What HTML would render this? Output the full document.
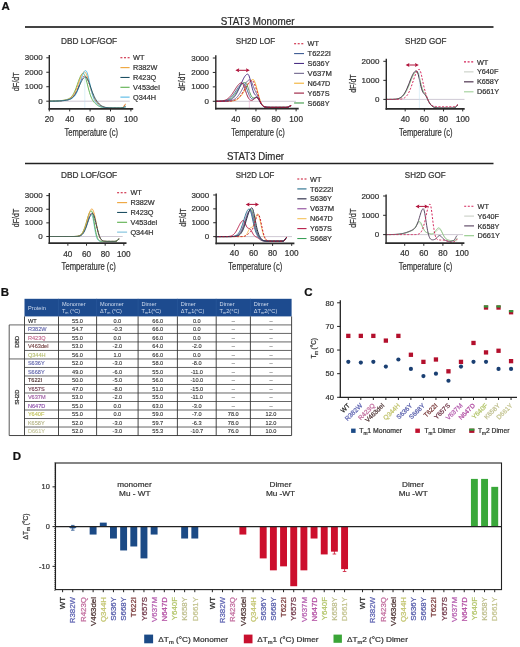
<!DOCTYPE html>
<html><head><meta charset="utf-8"><style>
html,body{margin:0;padding:0;background:#fff;width:520px;height:647px;overflow:hidden}
svg{display:block;font-family:"Liberation Sans", sans-serif;will-change:transform}
text{stroke:currentColor;stroke-width:0.22px;paint-order:stroke}
</style></head><body>
<svg width="520" height="647" viewBox="0 0 520 647">
<rect width="520" height="647" fill="#fff"/>
<text x="1.60" y="9.70" font-size="11.5" font-weight="bold" fill="#111" color="#111">A</text>
<text x="0.80" y="295.60" font-size="11.5" font-weight="bold" fill="#111" color="#111">B</text>
<text x="304.20" y="295.70" font-size="11.5" font-weight="bold" fill="#111" color="#111">C</text>
<text x="12.80" y="459.70" font-size="11.5" font-weight="bold" fill="#111" color="#111">D</text>
<text x="220.80" y="24.60" font-size="10.2" fill="#2a2a2a" color="#2a2a2a" textLength="73.7" lengthAdjust="spacingAndGlyphs">STAT3 Monomer</text>
<line x1="25.00" y1="27.00" x2="493.50" y2="27.00" stroke="#444" stroke-width="1.8"/>
<text x="226.90" y="159.50" font-size="10.2" fill="#2a2a2a" color="#2a2a2a" textLength="57.1" lengthAdjust="spacingAndGlyphs">STAT3 Dimer</text>
<line x1="25.00" y1="163.50" x2="493.50" y2="163.50" stroke="#222" stroke-width="1.4"/>
<line x1="49.30" y1="101.20" x2="129.80" y2="101.20" stroke="#c9c3cf" stroke-width="0.9"/>
<path d="M49.30,101.18 L49.81,101.17 L50.32,101.17 L50.83,101.16 L51.34,101.16 L51.85,101.15 L52.36,101.14 L52.87,101.14 L53.38,101.13 L53.89,101.12 L54.40,101.11 L54.91,101.10 L55.42,101.08 L55.93,101.07 L56.44,101.05 L56.95,101.03 L57.46,101.01 L57.97,100.99 L58.48,100.97 L58.99,100.94 L59.50,100.91 L60.01,100.88 L60.52,100.85 L61.03,100.81 L61.54,100.77 L62.05,100.72 L62.56,100.68 L63.07,100.62 L63.58,100.57 L64.09,100.50 L64.60,100.44 L65.11,100.36 L65.62,100.28 L66.13,100.18 L66.64,100.08 L67.15,99.97 L67.66,99.83 L68.17,99.69 L68.68,99.52 L69.19,99.33 L69.70,99.11 L70.21,98.85 L70.72,98.56 L71.23,98.23 L71.74,97.86 L72.25,97.43 L72.76,96.94 L73.27,96.39 L73.78,95.77 L74.29,95.08 L74.80,94.32 L75.31,93.48 L75.82,92.57 L76.33,91.58 L76.84,90.53 L77.35,89.41 L77.86,88.25 L78.37,87.04 L78.88,85.81 L79.39,84.57 L79.90,83.33 L80.41,82.13 L80.92,80.98 L81.43,79.90 L81.94,78.91 L82.45,78.03 L82.96,77.29 L83.47,76.70 L83.98,76.26 L84.49,76.00 L85.00,75.92 L85.51,76.06 L86.02,76.47 L86.53,77.12 L87.04,78.00 L87.55,79.09 L88.06,80.35 L88.57,81.75 L89.08,83.26 L89.59,84.84 L90.10,86.45 L90.61,88.07 L91.12,89.67 L91.63,91.21 L92.14,92.69 L92.65,94.08 L93.16,95.39 L93.67,96.60 L94.18,97.71 L94.69,98.74 L95.20,99.68 L95.71,100.53 L96.22,101.32 L96.73,102.03 L97.24,102.69 L97.75,103.30 L98.26,103.85 L98.77,104.36 L99.28,104.82 L99.79,105.24 L100.30,105.61 L100.81,105.95 L101.32,106.25 L101.83,106.51 L102.34,106.74 L102.85,106.93 L103.36,107.10 L103.87,107.25 L104.38,107.37 L104.89,107.48 L105.40,107.56 L105.91,107.64 L106.42,107.70 L106.93,107.75 L107.44,107.79 L107.95,107.83 L108.46,107.86 L108.97,107.88 L109.48,107.90 L109.99,107.92 L110.50,107.93 L111.01,107.95 L111.52,107.96 L112.03,107.96 L112.54,107.97 L113.05,107.98 L113.56,107.98 L114.07,107.98 L114.58,107.99 L115.09,107.99 L115.60,107.99 L116.11,107.99 L116.62,107.99 L117.13,108.00 L117.64,108.00 L118.15,108.00 L118.66,108.00 L119.17,108.00 L119.68,108.00 L120.19,107.99 L120.70,107.99 L121.21,107.96 L121.72,107.90 L122.23,107.76 L122.74,107.51 L123.25,107.10 L123.76,106.51 L124.27,105.81 L124.78,105.10 L125.29,104.58 L125.80,104.38" fill="none" stroke="#c8102e" stroke-width="1.0" stroke-dasharray="2,1.6" stroke-linejoin="round"/>
<path d="M49.30,101.16 L49.81,101.15 L50.32,101.14 L50.83,101.13 L51.34,101.12 L51.85,101.11 L52.36,101.10 L52.87,101.09 L53.38,101.08 L53.89,101.06 L54.40,101.04 L54.91,101.02 L55.42,101.00 L55.93,100.98 L56.44,100.95 L56.95,100.93 L57.46,100.90 L57.97,100.86 L58.48,100.83 L58.99,100.79 L59.50,100.75 L60.01,100.70 L60.52,100.65 L61.03,100.60 L61.54,100.54 L62.05,100.48 L62.56,100.41 L63.07,100.34 L63.58,100.26 L64.09,100.18 L64.60,100.08 L65.11,99.98 L65.62,99.87 L66.13,99.74 L66.64,99.60 L67.15,99.44 L67.66,99.26 L68.17,99.05 L68.68,98.81 L69.19,98.53 L69.70,98.21 L70.21,97.85 L70.72,97.42 L71.23,96.93 L71.74,96.37 L72.25,95.73 L72.76,95.01 L73.27,94.19 L73.78,93.29 L74.29,92.28 L74.80,91.18 L75.31,89.99 L75.82,88.72 L76.33,87.37 L76.84,85.97 L77.35,84.53 L77.86,83.06 L78.37,81.61 L78.88,80.18 L79.39,78.82 L79.90,77.56 L80.41,76.41 L80.92,75.41 L81.43,74.58 L81.94,73.95 L82.45,73.53 L82.96,73.34 L83.47,73.40 L83.98,73.84 L84.49,74.66 L85.00,75.82 L85.51,77.28 L86.02,78.98 L86.53,80.86 L87.04,82.86 L87.55,84.91 L88.06,86.97 L88.57,88.96 L89.08,90.87 L89.59,92.65 L90.10,94.29 L90.61,95.77 L91.12,97.09 L91.63,98.26 L92.14,99.29 L92.65,100.20 L93.16,101.00 L93.67,101.70 L94.18,102.33 L94.69,102.90 L95.20,103.41 L95.71,103.89 L96.22,104.33 L96.73,104.74 L97.24,105.12 L97.75,105.47 L98.26,105.79 L98.77,106.08 L99.28,106.35 L99.79,106.58 L100.30,106.79 L100.81,106.97 L101.32,107.13 L101.83,107.27 L102.34,107.38 L102.85,107.48 L103.36,107.57 L103.87,107.64 L104.38,107.70 L104.89,107.75 L105.40,107.79 L105.91,107.83 L106.42,107.86 L106.93,107.88 L107.44,107.90 L107.95,107.92 L108.46,107.93 L108.97,107.95 L109.48,107.96 L109.99,107.96 L110.50,107.97 L111.01,107.98 L111.52,107.98 L112.03,107.98 L112.54,107.99 L113.05,107.99 L113.56,107.99 L114.07,107.99 L114.58,107.99 L115.09,108.00 L115.60,108.00 L116.11,108.00 L116.62,108.00 L117.13,108.00 L117.64,108.00 L118.15,108.00 L118.66,108.00 L119.17,108.00 L119.68,108.00 L120.19,108.00 L120.70,108.00 L121.21,108.00 L121.72,108.00 L122.23,108.00 L122.74,108.00 L123.25,108.00 L123.76,108.00 L124.27,108.00 L124.78,108.00 L125.29,108.00 L125.80,108.00" fill="none" stroke="#5cb04e" stroke-width="0.95" stroke-linejoin="round"/>
<path d="M49.30,101.17 L49.81,101.16 L50.32,101.16 L50.83,101.15 L51.34,101.14 L51.85,101.13 L52.36,101.13 L52.87,101.11 L53.38,101.10 L53.89,101.09 L54.40,101.08 L54.91,101.06 L55.42,101.04 L55.93,101.02 L56.44,101.00 L56.95,100.98 L57.46,100.95 L57.97,100.92 L58.48,100.89 L58.99,100.86 L59.50,100.82 L60.01,100.78 L60.52,100.74 L61.03,100.69 L61.54,100.64 L62.05,100.59 L62.56,100.53 L63.07,100.46 L63.58,100.39 L64.09,100.31 L64.60,100.23 L65.11,100.14 L65.62,100.04 L66.13,99.93 L66.64,99.80 L67.15,99.66 L67.66,99.50 L68.17,99.32 L68.68,99.12 L69.19,98.88 L69.70,98.62 L70.21,98.31 L70.72,97.95 L71.23,97.55 L71.74,97.08 L72.25,96.54 L72.76,95.94 L73.27,95.25 L73.78,94.47 L74.29,93.61 L74.80,92.65 L75.31,91.61 L75.82,90.46 L76.33,89.23 L76.84,87.92 L77.35,86.55 L77.86,85.11 L78.37,83.64 L78.88,82.15 L79.39,80.67 L79.90,79.22 L80.41,77.83 L80.92,76.53 L81.43,75.34 L81.94,74.29 L82.45,73.41 L82.96,72.71 L83.47,72.21 L83.98,71.93 L84.49,71.87 L85.00,72.09 L85.51,72.61 L86.02,73.42 L86.53,74.48 L87.04,75.78 L87.55,77.27 L88.06,78.92 L88.57,80.67 L89.08,82.50 L89.59,84.36 L90.10,86.21 L90.61,88.03 L91.12,89.77 L91.63,91.43 L92.14,92.99 L92.65,94.44 L93.16,95.77 L93.67,96.99 L94.18,98.09 L94.69,99.09 L95.20,100.00 L95.71,100.82 L96.22,101.57 L96.73,102.25 L97.24,102.88 L97.75,103.45 L98.26,103.98 L98.77,104.46 L99.28,104.90 L99.79,105.30 L100.30,105.66 L100.81,105.99 L101.32,106.28 L101.83,106.53 L102.34,106.75 L102.85,106.95 L103.36,107.11 L103.87,107.25 L104.38,107.38 L104.89,107.48 L105.40,107.57 L105.91,107.64 L106.42,107.70 L106.93,107.75 L107.44,107.79 L107.95,107.83 L108.46,107.86 L108.97,107.88 L109.48,107.90 L109.99,107.92 L110.50,107.93 L111.01,107.95 L111.52,107.96 L112.03,107.96 L112.54,107.97 L113.05,107.98 L113.56,107.98 L114.07,107.98 L114.58,107.99 L115.09,107.99 L115.60,107.99 L116.11,107.99 L116.62,107.99 L117.13,108.00 L117.64,108.00 L118.15,108.00 L118.66,108.00 L119.17,108.00 L119.68,108.00 L120.19,107.99 L120.70,107.98 L121.21,107.95 L121.72,107.88 L122.23,107.73 L122.74,107.45 L123.25,106.99 L123.76,106.33 L124.27,105.54 L124.78,104.76 L125.29,104.17 L125.80,103.95" fill="none" stroke="#eea236" stroke-width="0.95" stroke-linejoin="round"/>
<path d="M49.30,101.18 L49.81,101.17 L50.32,101.17 L50.83,101.16 L51.34,101.16 L51.85,101.15 L52.36,101.14 L52.87,101.13 L53.38,101.13 L53.89,101.12 L54.40,101.10 L54.91,101.09 L55.42,101.08 L55.93,101.06 L56.44,101.04 L56.95,101.02 L57.46,101.00 L57.97,100.98 L58.48,100.95 L58.99,100.92 L59.50,100.89 L60.01,100.86 L60.52,100.82 L61.03,100.78 L61.54,100.74 L62.05,100.69 L62.56,100.64 L63.07,100.59 L63.58,100.53 L64.09,100.47 L64.60,100.40 L65.11,100.33 L65.62,100.25 L66.13,100.17 L66.64,100.08 L67.15,99.98 L67.66,99.88 L68.17,99.77 L68.68,99.64 L69.19,99.51 L69.70,99.35 L70.21,99.18 L70.72,98.99 L71.23,98.76 L71.74,98.50 L72.25,98.20 L72.76,97.86 L73.27,97.45 L73.78,96.98 L74.29,96.43 L74.80,95.80 L75.31,95.07 L75.82,94.23 L76.33,93.29 L76.84,92.22 L77.35,91.04 L77.86,89.75 L78.37,88.34 L78.88,86.84 L79.39,85.25 L79.90,83.60 L80.41,81.91 L80.92,80.22 L81.43,78.55 L81.94,76.95 L82.45,75.46 L82.96,74.11 L83.47,72.93 L83.98,71.97 L84.49,71.25 L85.00,70.79 L85.51,70.61 L86.02,70.77 L86.53,71.41 L87.04,72.49 L87.55,73.97 L88.06,75.78 L88.57,77.86 L89.08,80.12 L89.59,82.49 L90.10,84.88 L90.61,87.23 L91.12,89.48 L91.63,91.60 L92.14,93.54 L92.65,95.29 L93.16,96.86 L93.67,98.24 L94.18,99.45 L94.69,100.50 L95.20,101.41 L95.71,102.21 L96.22,102.91 L96.73,103.53 L97.24,104.07 L97.75,104.56 L98.26,105.00 L98.77,105.39 L99.28,105.74 L99.79,106.05 L100.30,106.32 L100.81,106.57 L101.32,106.78 L101.83,106.97 L102.34,107.13 L102.85,107.26 L103.36,107.38 L103.87,107.48 L104.38,107.57 L104.89,107.64 L105.40,107.70 L105.91,107.75 L106.42,107.79 L106.93,107.83 L107.44,107.86 L107.95,107.88 L108.46,107.90 L108.97,107.92 L109.48,107.93 L109.99,107.95 L110.50,107.96 L111.01,107.96 L111.52,107.97 L112.03,107.98 L112.54,107.98 L113.05,107.98 L113.56,107.99 L114.07,107.99 L114.58,107.99 L115.09,107.99 L115.60,107.99 L116.11,108.00 L116.62,108.00 L117.13,108.00 L117.64,108.00 L118.15,108.00 L118.66,108.00 L119.17,108.00 L119.68,108.00 L120.19,108.00 L120.70,108.00 L121.21,108.00 L121.72,108.00 L122.23,108.00 L122.74,108.00 L123.25,108.00 L123.76,108.00 L124.27,108.00 L124.78,108.00 L125.29,108.00 L125.80,108.00" fill="none" stroke="#55b9e6" stroke-width="0.95" stroke-linejoin="round"/>
<path d="M49.30,101.18 L49.81,101.18 L50.32,101.17 L50.83,101.17 L51.34,101.16 L51.85,101.16 L52.36,101.15 L52.87,101.14 L53.38,101.14 L53.89,101.13 L54.40,101.12 L54.91,101.11 L55.42,101.10 L55.93,101.08 L56.44,101.07 L56.95,101.05 L57.46,101.03 L57.97,101.01 L58.48,100.99 L58.99,100.97 L59.50,100.94 L60.01,100.91 L60.52,100.88 L61.03,100.85 L61.54,100.81 L62.05,100.77 L62.56,100.73 L63.07,100.68 L63.58,100.62 L64.09,100.57 L64.60,100.50 L65.11,100.43 L65.62,100.36 L66.13,100.27 L66.64,100.17 L67.15,100.06 L67.66,99.94 L68.17,99.80 L68.68,99.65 L69.19,99.47 L69.70,99.26 L70.21,99.03 L70.72,98.76 L71.23,98.45 L71.74,98.11 L72.25,97.71 L72.76,97.26 L73.27,96.75 L73.78,96.18 L74.29,95.55 L74.80,94.85 L75.31,94.08 L75.82,93.24 L76.33,92.33 L76.84,91.36 L77.35,90.33 L77.86,89.25 L78.37,88.13 L78.88,86.98 L79.39,85.81 L79.90,84.65 L80.41,83.50 L80.92,82.40 L81.43,81.35 L81.94,80.37 L82.45,79.50 L82.96,78.73 L83.47,78.10 L83.98,77.61 L84.49,77.27 L85.00,77.10 L85.51,77.09 L86.02,77.31 L86.53,77.75 L87.04,78.41 L87.55,79.26 L88.06,80.29 L88.57,81.47 L89.08,82.77 L89.59,84.16 L90.10,85.60 L90.61,87.08 L91.12,88.56 L91.63,90.02 L92.14,91.44 L92.65,92.80 L93.16,94.09 L93.67,95.30 L94.18,96.43 L94.69,97.47 L95.20,98.44 L95.71,99.33 L96.22,100.16 L96.73,100.91 L97.24,101.61 L97.75,102.26 L98.26,102.87 L98.77,103.43 L99.28,103.95 L99.79,104.43 L100.30,104.87 L100.81,105.27 L101.32,105.64 L101.83,105.96 L102.34,106.26 L102.85,106.51 L103.36,106.74 L103.87,106.94 L104.38,107.10 L104.89,107.25 L105.40,107.37 L105.91,107.48 L106.42,107.56 L106.93,107.64 L107.44,107.70 L107.95,107.75 L108.46,107.79 L108.97,107.83 L109.48,107.86 L109.99,107.88 L110.50,107.90 L111.01,107.92 L111.52,107.93 L112.03,107.95 L112.54,107.96 L113.05,107.96 L113.56,107.97 L114.07,107.98 L114.58,107.98 L115.09,107.98 L115.60,107.99 L116.11,107.99 L116.62,107.99 L117.13,107.99 L117.64,107.99 L118.15,108.00 L118.66,108.00 L119.17,108.00 L119.68,108.00 L120.19,108.00 L120.70,107.99 L121.21,107.98 L121.72,107.95 L122.23,107.89 L122.74,107.76 L123.25,107.57 L123.76,107.29 L124.27,106.95 L124.78,106.61 L125.29,106.36 L125.80,106.26" fill="none" stroke="#1d4f63" stroke-width="0.95" stroke-linejoin="round"/>
<line x1="84.80" y1="70.09" x2="84.80" y2="108.80" stroke="#bfe2f3" stroke-width="0.5"/>
<line x1="49.30" y1="55.00" x2="49.30" y2="109.70" stroke="#2a2a2a" stroke-width="1.4"/>
<line x1="48.60" y1="108.80" x2="133.20" y2="108.80" stroke="#2a2a2a" stroke-width="1.8"/>
<line x1="46.30" y1="101.20" x2="49.30" y2="101.20" stroke="#2a2a2a" stroke-width="1.0"/>
<text x="42.60" y="103.80" font-size="8.0" text-anchor="end" fill="#333" color="#333">0</text>
<line x1="46.30" y1="86.73" x2="49.30" y2="86.73" stroke="#2a2a2a" stroke-width="1.0"/>
<text x="42.60" y="89.33" font-size="8.0" text-anchor="end" fill="#333" color="#333">1000</text>
<line x1="46.30" y1="72.26" x2="49.30" y2="72.26" stroke="#2a2a2a" stroke-width="1.0"/>
<text x="42.60" y="74.86" font-size="8.0" text-anchor="end" fill="#333" color="#333">2000</text>
<line x1="46.30" y1="57.79" x2="49.30" y2="57.79" stroke="#2a2a2a" stroke-width="1.0"/>
<text x="42.60" y="60.39" font-size="8.0" text-anchor="end" fill="#333" color="#333">3000</text>
<line x1="49.30" y1="108.80" x2="49.30" y2="111.40" stroke="#2a2a2a" stroke-width="1.0"/>
<line x1="69.70" y1="108.80" x2="69.70" y2="111.40" stroke="#2a2a2a" stroke-width="1.0"/>
<line x1="90.10" y1="108.80" x2="90.10" y2="111.40" stroke="#2a2a2a" stroke-width="1.0"/>
<line x1="110.50" y1="108.80" x2="110.50" y2="111.40" stroke="#2a2a2a" stroke-width="1.0"/>
<line x1="130.90" y1="108.80" x2="130.90" y2="111.40" stroke="#2a2a2a" stroke-width="1.0"/>
<text x="49.30" y="122.00" font-size="8.2" text-anchor="middle" fill="#333" color="#333">20</text>
<text x="69.70" y="122.00" font-size="8.2" text-anchor="middle" fill="#333" color="#333">40</text>
<text x="90.10" y="122.00" font-size="8.2" text-anchor="middle" fill="#333" color="#333">60</text>
<text x="110.50" y="122.00" font-size="8.2" text-anchor="middle" fill="#333" color="#333">80</text>
<text x="130.90" y="122.00" font-size="8.2" text-anchor="middle" fill="#333" color="#333">100</text>
<text x="61.00" y="43.50" font-size="8.4" fill="#333" color="#333" textLength="56.2" lengthAdjust="spacingAndGlyphs">DBD LOF/GOF</text>
<text transform="translate(19.20,81.80) rotate(-90)" x="0" y="0" font-size="9.6" text-anchor="middle" fill="#333" color="#333" textLength="19" lengthAdjust="spacingAndGlyphs">dF/dT</text>
<text x="64.40" y="135.50" font-size="10.0" fill="#333" color="#333" textLength="53.599999999999994" lengthAdjust="spacingAndGlyphs">Temperature (c)</text>
<line x1="120.40" y1="57.80" x2="129.60" y2="57.80" stroke="#c8102e" stroke-width="1.1" stroke-dasharray="2,1.6"/>
<text x="133.00" y="60.40" font-size="7.3" fill="#333" color="#333">WT</text>
<line x1="120.40" y1="67.63" x2="129.60" y2="67.63" stroke="#eea236" stroke-width="1.1"/>
<text x="133.00" y="70.23" font-size="7.3" fill="#333" color="#333" textLength="24.3" lengthAdjust="spacingAndGlyphs">R382W</text>
<line x1="120.40" y1="77.46" x2="129.60" y2="77.46" stroke="#1d4f63" stroke-width="1.1"/>
<text x="133.00" y="80.06" font-size="7.3" fill="#333" color="#333">R423Q</text>
<line x1="120.40" y1="87.29" x2="129.60" y2="87.29" stroke="#5cb04e" stroke-width="1.1"/>
<text x="133.00" y="89.89" font-size="7.3" fill="#333" color="#333">V453del</text>
<line x1="120.40" y1="97.12" x2="129.60" y2="97.12" stroke="#55b9e6" stroke-width="1.1"/>
<text x="133.00" y="99.72" font-size="7.3" fill="#333" color="#333">Q344H</text>
<line x1="215.80" y1="101.30" x2="296.00" y2="101.30" stroke="#c9c3cf" stroke-width="0.9"/>
<path d="M215.80,101.30 L216.30,101.30 L216.80,101.30 L217.31,101.30 L217.81,101.30 L218.31,101.30 L218.81,101.30 L219.31,101.30 L219.82,101.30 L220.32,101.30 L220.82,101.30 L221.32,101.30 L221.82,101.30 L222.33,101.30 L222.83,101.30 L223.33,101.30 L223.83,101.30 L224.33,101.29 L224.84,101.29 L225.34,101.29 L225.84,101.28 L226.34,101.28 L226.84,101.27 L227.35,101.27 L227.85,101.26 L228.35,101.24 L228.85,101.23 L229.35,101.21 L229.86,101.19 L230.36,101.16 L230.86,101.12 L231.36,101.08 L231.86,101.03 L232.37,100.96 L232.87,100.89 L233.37,100.80 L233.87,100.69 L234.37,100.57 L234.88,100.42 L235.38,100.25 L235.88,100.05 L236.38,99.82 L236.88,99.57 L237.39,99.27 L237.89,98.94 L238.39,98.57 L238.89,98.15 L239.39,97.69 L239.90,97.19 L240.40,96.64 L240.90,96.04 L241.40,95.39 L241.90,94.70 L242.41,93.96 L242.91,93.19 L243.41,92.37 L243.91,91.53 L244.41,90.66 L244.92,89.77 L245.42,88.88 L245.92,87.98 L246.42,87.09 L246.92,86.21 L247.43,85.36 L247.93,84.55 L248.43,83.78 L248.93,83.06 L249.43,82.40 L249.94,81.80 L250.44,81.26 L250.94,80.77 L251.44,80.34 L251.94,79.95 L252.45,79.60 L252.95,79.40 L253.45,79.61 L253.95,80.19 L254.45,81.11 L254.96,82.32 L255.46,83.77 L255.96,85.40 L256.46,87.17 L256.96,89.04 L257.47,90.96 L257.97,92.88 L258.47,94.78 L258.97,96.62 L259.47,98.35 L259.98,99.95 L260.48,101.40 L260.98,102.66 L261.48,103.73 L261.98,104.61 L262.49,105.32 L262.99,105.86 L263.49,106.28 L263.99,106.58 L264.49,106.80 L265.00,106.96 L265.50,107.07 L266.00,107.16 L266.50,107.21 L267.00,107.25 L267.51,107.28 L268.01,107.30 L268.51,107.32 L269.01,107.33 L269.51,107.34 L270.02,107.34 L270.52,107.35 L271.02,107.35 L271.52,107.35 L272.02,107.36 L272.53,107.36 L273.03,107.36 L273.53,107.36 L274.03,107.36 L274.53,107.36 L275.04,107.36 L275.54,107.36 L276.04,107.36 L276.54,107.36 L277.04,107.36 L277.55,107.36 L278.05,107.36 L278.55,107.36 L279.05,107.36 L279.55,107.36 L280.06,107.36 L280.56,107.36 L281.06,107.36 L281.56,107.36 L282.06,107.36 L282.57,107.36 L283.07,107.36 L283.57,107.36 L284.07,107.36 L284.57,107.36 L285.08,107.36 L285.58,107.36 L286.08,107.35 L286.58,107.34 L287.08,107.31 L287.59,107.25 L288.09,107.13 L288.59,106.93 L289.09,106.65 L289.59,106.31 L290.10,105.97 L290.60,105.72 L291.10,105.63" fill="none" stroke="#f2b134" stroke-width="0.95" stroke-linejoin="round"/>
<path d="M215.80,101.30 L216.30,101.30 L216.80,101.29 L217.31,101.29 L217.81,101.29 L218.31,101.29 L218.81,101.28 L219.31,101.28 L219.82,101.27 L220.32,101.26 L220.82,101.25 L221.32,101.23 L221.82,101.22 L222.33,101.19 L222.83,101.17 L223.33,101.13 L223.83,101.09 L224.33,101.04 L224.84,100.98 L225.34,100.91 L225.84,100.83 L226.34,100.73 L226.84,100.61 L227.35,100.48 L227.85,100.32 L228.35,100.13 L228.85,99.92 L229.35,99.68 L229.86,99.41 L230.36,99.10 L230.86,98.76 L231.36,98.38 L231.86,97.96 L232.37,97.49 L232.87,96.98 L233.37,96.43 L233.87,95.84 L234.37,95.21 L234.88,94.54 L235.38,93.83 L235.88,93.09 L236.38,92.33 L236.88,91.54 L237.39,90.73 L237.89,89.92 L238.39,89.11 L238.89,88.31 L239.39,87.52 L239.90,86.76 L240.40,86.04 L240.90,85.37 L241.40,84.75 L241.90,84.19 L242.41,83.70 L242.91,83.29 L243.41,82.97 L243.91,82.73 L244.41,82.59 L244.92,82.54 L245.42,82.69 L245.92,83.15 L246.42,83.88 L246.92,84.85 L247.43,86.02 L247.93,87.34 L248.43,88.74 L248.93,90.18 L249.43,91.60 L249.94,92.95 L250.44,94.18 L250.94,95.27 L251.44,96.18 L251.94,96.90 L252.45,97.42 L252.95,97.74 L253.45,97.88 L253.95,97.87 L254.45,97.75 L254.96,97.57 L255.46,97.39 L255.96,97.27 L256.46,97.27 L256.96,97.42 L257.47,97.75 L257.97,98.26 L258.47,98.94 L258.97,99.76 L259.47,100.67 L259.98,101.62 L260.48,102.57 L260.98,103.47 L261.48,104.28 L261.98,104.97 L262.49,105.55 L262.99,106.01 L263.49,106.36 L263.99,106.63 L264.49,106.83 L265.00,106.98 L265.50,107.08 L266.00,107.16 L266.50,107.22 L267.00,107.26 L267.51,107.28 L268.01,107.30 L268.51,107.32 L269.01,107.33 L269.51,107.34 L270.02,107.34 L270.52,107.35 L271.02,107.35 L271.52,107.35 L272.02,107.36 L272.53,107.36 L273.03,107.36 L273.53,107.36 L274.03,107.36 L274.53,107.36 L275.04,107.36 L275.54,107.36 L276.04,107.36 L276.54,107.36 L277.04,107.36 L277.55,107.36 L278.05,107.36 L278.55,107.36 L279.05,107.36 L279.55,107.36 L280.06,107.36 L280.56,107.36 L281.06,107.36 L281.56,107.36 L282.06,107.36 L282.57,107.36 L283.07,107.36 L283.57,107.36 L284.07,107.36 L284.57,107.36 L285.08,107.36 L285.58,107.36 L286.08,107.35 L286.58,107.34 L287.08,107.31 L287.59,107.25 L288.09,107.13 L288.59,106.93 L289.09,106.65 L289.59,106.31 L290.10,105.97 L290.60,105.72 L291.10,105.63" fill="none" stroke="#3f9a47" stroke-width="0.95" stroke-linejoin="round"/>
<path d="M215.80,101.29 L216.30,101.29 L216.80,101.29 L217.31,101.28 L217.81,101.28 L218.31,101.27 L218.81,101.26 L219.31,101.25 L219.82,101.23 L220.32,101.21 L220.82,101.19 L221.32,101.16 L221.82,101.13 L222.33,101.09 L222.83,101.04 L223.33,100.98 L223.83,100.91 L224.33,100.83 L224.84,100.73 L225.34,100.61 L225.84,100.48 L226.34,100.32 L226.84,100.14 L227.35,99.93 L227.85,99.70 L228.35,99.43 L228.85,99.13 L229.35,98.79 L229.86,98.41 L230.36,98.00 L230.86,97.54 L231.36,97.05 L231.86,96.51 L232.37,95.93 L232.87,95.32 L233.37,94.67 L233.87,93.98 L234.37,93.26 L234.88,92.52 L235.38,91.76 L235.88,90.98 L236.38,90.20 L236.88,89.42 L237.39,88.66 L237.89,87.90 L238.39,87.18 L238.89,86.50 L239.39,85.86 L239.90,85.27 L240.40,84.75 L240.90,84.29 L241.40,83.91 L241.90,83.62 L242.41,83.41 L242.91,83.29 L243.41,83.27 L243.91,83.46 L244.41,83.93 L244.92,84.65 L245.42,85.58 L245.92,86.70 L246.42,87.94 L246.92,89.27 L247.43,90.63 L247.93,91.98 L248.43,93.28 L248.93,94.50 L249.43,95.60 L249.94,96.57 L250.44,97.39 L250.94,98.05 L251.44,98.54 L251.94,98.86 L252.45,99.02 L252.95,99.02 L253.45,98.88 L253.95,98.64 L254.45,98.33 L254.96,98.00 L255.46,97.70 L255.96,97.50 L256.46,97.43 L256.96,97.53 L257.47,97.82 L257.97,98.31 L258.47,98.97 L258.97,99.78 L259.47,100.68 L259.98,101.63 L260.48,102.58 L260.98,103.47 L261.48,104.28 L261.98,104.97 L262.49,105.55 L262.99,106.01 L263.49,106.36 L263.99,106.63 L264.49,106.83 L265.00,106.98 L265.50,107.08 L266.00,107.16 L266.50,107.22 L267.00,107.26 L267.51,107.28 L268.01,107.30 L268.51,107.32 L269.01,107.33 L269.51,107.34 L270.02,107.34 L270.52,107.35 L271.02,107.35 L271.52,107.35 L272.02,107.36 L272.53,107.36 L273.03,107.36 L273.53,107.36 L274.03,107.36 L274.53,107.36 L275.04,107.36 L275.54,107.36 L276.04,107.36 L276.54,107.36 L277.04,107.36 L277.55,107.36 L278.05,107.36 L278.55,107.36 L279.05,107.36 L279.55,107.36 L280.06,107.36 L280.56,107.36 L281.06,107.36 L281.56,107.36 L282.06,107.36 L282.57,107.36 L283.07,107.36 L283.57,107.36 L284.07,107.36 L284.57,107.36 L285.08,107.36 L285.58,107.36 L286.08,107.35 L286.58,107.34 L287.08,107.31 L287.59,107.25 L288.09,107.13 L288.59,106.93 L289.09,106.65 L289.59,106.31 L290.10,105.97 L290.60,105.72 L291.10,105.63" fill="none" stroke="#3d5b94" stroke-width="0.95" stroke-linejoin="round"/>
<path d="M215.80,101.30 L216.30,101.30 L216.80,101.30 L217.31,101.30 L217.81,101.30 L218.31,101.30 L218.81,101.30 L219.31,101.30 L219.82,101.30 L220.32,101.30 L220.82,101.30 L221.32,101.29 L221.82,101.29 L222.33,101.29 L222.83,101.29 L223.33,101.28 L223.83,101.28 L224.33,101.27 L224.84,101.26 L225.34,101.25 L225.84,101.23 L226.34,101.22 L226.84,101.19 L227.35,101.17 L227.85,101.13 L228.35,101.09 L228.85,101.04 L229.35,100.98 L229.86,100.91 L230.36,100.82 L230.86,100.72 L231.36,100.60 L231.86,100.46 L232.37,100.29 L232.87,100.10 L233.37,99.88 L233.87,99.63 L234.37,99.34 L234.88,99.02 L235.38,98.65 L235.88,98.24 L236.38,97.79 L236.88,97.29 L237.39,96.74 L237.89,96.14 L238.39,95.50 L238.89,94.80 L239.39,94.07 L239.90,93.28 L240.40,92.46 L240.90,91.61 L241.40,90.73 L241.90,89.82 L242.41,88.90 L242.91,87.98 L243.41,87.06 L243.91,86.15 L244.41,85.27 L244.92,84.42 L245.42,83.62 L245.92,82.87 L246.42,82.19 L246.92,81.58 L247.43,81.06 L247.93,80.63 L248.43,80.29 L248.93,80.05 L249.43,79.90 L249.94,79.87 L250.44,80.14 L250.94,80.75 L251.44,81.64 L251.94,82.75 L252.45,84.01 L252.95,85.34 L253.45,86.67 L253.95,87.96 L254.45,89.18 L254.96,90.31 L255.46,91.37 L255.96,92.38 L256.46,93.37 L256.96,94.37 L257.47,95.41 L257.97,96.50 L258.47,97.64 L258.97,98.81 L259.47,100.00 L259.98,101.16 L260.48,102.25 L260.98,103.26 L261.48,104.14 L261.98,104.88 L262.49,105.49 L262.99,105.97 L263.49,106.34 L263.99,106.62 L264.49,106.83 L265.00,106.97 L265.50,107.08 L266.00,107.16 L266.50,107.22 L267.00,107.25 L267.51,107.28 L268.01,107.30 L268.51,107.32 L269.01,107.33 L269.51,107.34 L270.02,107.34 L270.52,107.35 L271.02,107.35 L271.52,107.35 L272.02,107.36 L272.53,107.36 L273.03,107.36 L273.53,107.36 L274.03,107.36 L274.53,107.36 L275.04,107.36 L275.54,107.36 L276.04,107.36 L276.54,107.36 L277.04,107.36 L277.55,107.36 L278.05,107.36 L278.55,107.36 L279.05,107.36 L279.55,107.36 L280.06,107.36 L280.56,107.36 L281.06,107.36 L281.56,107.36 L282.06,107.36 L282.57,107.36 L283.07,107.36 L283.57,107.36 L284.07,107.36 L284.57,107.36 L285.08,107.36 L285.58,107.36 L286.08,107.35 L286.58,107.34 L287.08,107.31 L287.59,107.25 L288.09,107.13 L288.59,106.93 L289.09,106.65 L289.59,106.31 L290.10,105.97 L290.60,105.72 L291.10,105.63" fill="none" stroke="#6e648c" stroke-width="0.95" stroke-linejoin="round"/>
<path d="M215.80,101.30 L216.30,101.30 L216.80,101.30 L217.31,101.30 L217.81,101.30 L218.31,101.30 L218.81,101.29 L219.31,101.29 L219.82,101.29 L220.32,101.29 L220.82,101.28 L221.32,101.28 L221.82,101.27 L222.33,101.26 L222.83,101.25 L223.33,101.23 L223.83,101.22 L224.33,101.19 L224.84,101.17 L225.34,101.13 L225.84,101.09 L226.34,101.04 L226.84,100.97 L227.35,100.90 L227.85,100.80 L228.35,100.69 L228.85,100.56 L229.35,100.41 L229.86,100.23 L230.36,100.02 L230.86,99.78 L231.36,99.50 L231.86,99.18 L232.37,98.81 L232.87,98.40 L233.37,97.93 L233.87,97.41 L234.37,96.84 L234.88,96.20 L235.38,95.51 L235.88,94.75 L236.38,93.93 L236.88,93.05 L237.39,92.11 L237.89,91.12 L238.39,90.08 L238.89,88.99 L239.39,87.87 L239.90,86.72 L240.40,85.55 L240.90,84.38 L241.40,83.21 L241.90,82.05 L242.41,80.93 L242.91,79.86 L243.41,78.84 L243.91,77.89 L244.41,77.02 L244.92,76.26 L245.42,75.60 L245.92,75.05 L246.42,74.64 L246.92,74.35 L247.43,74.19 L247.93,74.21 L248.43,74.66 L248.93,75.60 L249.43,76.97 L249.94,78.69 L250.44,80.64 L250.94,82.74 L251.44,84.86 L251.94,86.91 L252.45,88.80 L252.95,90.47 L253.45,91.88 L253.95,93.02 L254.45,93.91 L254.96,94.60 L255.46,95.14 L255.96,95.60 L256.46,96.05 L256.96,96.55 L257.47,97.14 L257.97,97.84 L258.47,98.66 L258.97,99.57 L259.47,100.55 L259.98,101.55 L260.48,102.53 L260.98,103.44 L261.48,104.26 L261.98,104.96 L262.49,105.54 L262.99,106.00 L263.49,106.36 L263.99,106.63 L264.49,106.83 L265.00,106.98 L265.50,107.08 L266.00,107.16 L266.50,107.22 L267.00,107.26 L267.51,107.28 L268.01,107.30 L268.51,107.32 L269.01,107.33 L269.51,107.34 L270.02,107.34 L270.52,107.35 L271.02,107.35 L271.52,107.35 L272.02,107.36 L272.53,107.36 L273.03,107.36 L273.53,107.36 L274.03,107.36 L274.53,107.36 L275.04,107.36 L275.54,107.36 L276.04,107.36 L276.54,107.36 L277.04,107.36 L277.55,107.36 L278.05,107.36 L278.55,107.36 L279.05,107.36 L279.55,107.36 L280.06,107.36 L280.56,107.36 L281.06,107.36 L281.56,107.36 L282.06,107.36 L282.57,107.36 L283.07,107.36 L283.57,107.36 L284.07,107.36 L284.57,107.36 L285.08,107.36 L285.58,107.36 L286.08,107.35 L286.58,107.34 L287.08,107.31 L287.59,107.25 L288.09,107.13 L288.59,106.93 L289.09,106.65 L289.59,106.31 L290.10,105.97 L290.60,105.72 L291.10,105.63" fill="none" stroke="#4a2f85" stroke-width="0.95" stroke-linejoin="round"/>
<path d="M215.80,101.28 L216.30,101.27 L216.80,101.27 L217.31,101.26 L217.81,101.24 L218.31,101.23 L218.81,101.21 L219.31,101.18 L219.82,101.16 L220.32,101.12 L220.82,101.08 L221.32,101.02 L221.82,100.96 L222.33,100.89 L222.83,100.80 L223.33,100.69 L223.83,100.57 L224.33,100.43 L224.84,100.26 L225.34,100.07 L225.84,99.85 L226.34,99.61 L226.84,99.32 L227.35,99.01 L227.85,98.65 L228.35,98.26 L228.85,97.83 L229.35,97.36 L229.86,96.84 L230.36,96.28 L230.86,95.68 L231.36,95.04 L231.86,94.37 L232.37,93.66 L232.87,92.92 L233.37,92.15 L233.87,91.37 L234.37,90.58 L234.88,89.78 L235.38,88.98 L235.88,88.20 L236.38,87.43 L236.88,86.70 L237.39,86.01 L237.89,85.36 L238.39,84.77 L238.89,84.25 L239.39,83.80 L239.90,83.43 L240.40,83.15 L240.90,82.95 L241.40,82.85 L241.90,82.86 L242.41,83.18 L242.91,83.83 L243.41,84.78 L243.91,85.98 L244.41,87.36 L244.92,88.86 L245.42,90.41 L245.92,91.95 L246.42,93.42 L246.92,94.79 L247.43,96.02 L247.93,97.10 L248.43,98.01 L248.93,98.77 L249.43,99.36 L249.94,99.81 L250.44,100.13 L250.94,100.31 L251.44,100.37 L251.94,100.31 L252.45,100.15 L252.95,99.88 L253.45,99.53 L253.95,99.12 L254.45,98.68 L254.96,98.25 L255.46,97.88 L255.96,97.62 L256.46,97.51 L256.96,97.58 L257.47,97.85 L257.97,98.33 L258.47,98.98 L258.97,99.78 L259.47,100.69 L259.98,101.64 L260.48,102.58 L260.98,103.47 L261.48,104.28 L261.98,104.97 L262.49,105.55 L262.99,106.01 L263.49,106.36 L263.99,106.63 L264.49,106.83 L265.00,106.98 L265.50,107.08 L266.00,107.16 L266.50,107.22 L267.00,107.26 L267.51,107.28 L268.01,107.30 L268.51,107.32 L269.01,107.33 L269.51,107.34 L270.02,107.34 L270.52,107.35 L271.02,107.35 L271.52,107.35 L272.02,107.36 L272.53,107.36 L273.03,107.36 L273.53,107.36 L274.03,107.36 L274.53,107.36 L275.04,107.36 L275.54,107.36 L276.04,107.36 L276.54,107.36 L277.04,107.36 L277.55,107.36 L278.05,107.36 L278.55,107.36 L279.05,107.36 L279.55,107.36 L280.06,107.36 L280.56,107.36 L281.06,107.36 L281.56,107.36 L282.06,107.36 L282.57,107.36 L283.07,107.36 L283.57,107.36 L284.07,107.36 L284.57,107.36 L285.08,107.36 L285.58,107.36 L286.08,107.35 L286.58,107.34 L287.08,107.31 L287.59,107.25 L288.09,107.13 L288.59,106.93 L289.09,106.65 L289.59,106.31 L290.10,105.97 L290.60,105.72 L291.10,105.63" fill="none" stroke="#9a1a3c" stroke-width="0.95" stroke-linejoin="round"/>
<path d="M215.80,101.30 L216.30,101.30 L216.80,101.30 L217.31,101.30 L217.81,101.30 L218.31,101.30 L218.81,101.30 L219.31,101.30 L219.82,101.30 L220.32,101.30 L220.82,101.30 L221.32,101.30 L221.82,101.30 L222.33,101.30 L222.83,101.30 L223.33,101.29 L223.83,101.29 L224.33,101.29 L224.84,101.29 L225.34,101.28 L225.84,101.28 L226.34,101.27 L226.84,101.26 L227.35,101.25 L227.85,101.24 L228.35,101.22 L228.85,101.20 L229.35,101.17 L229.86,101.14 L230.36,101.10 L230.86,101.06 L231.36,101.00 L231.86,100.93 L232.37,100.85 L232.87,100.75 L233.37,100.64 L233.87,100.50 L234.37,100.35 L234.88,100.17 L235.38,99.96 L235.88,99.72 L236.38,99.45 L236.88,99.14 L237.39,98.79 L237.89,98.41 L238.39,97.98 L238.89,97.50 L239.39,96.99 L239.90,96.42 L240.40,95.81 L240.90,95.16 L241.40,94.46 L241.90,93.72 L242.41,92.94 L242.91,92.13 L243.41,91.30 L243.91,90.44 L244.41,89.57 L244.92,88.70 L245.42,87.83 L245.92,86.97 L246.42,86.13 L246.92,85.33 L247.43,84.57 L247.93,83.86 L248.43,83.21 L248.93,82.62 L249.43,82.10 L249.94,81.65 L250.44,81.26 L250.94,80.94 L251.44,80.68 L251.94,80.48 L252.45,80.59 L252.95,81.05 L253.45,81.80 L253.95,82.79 L254.45,83.97 L254.96,85.30 L255.46,86.72 L255.96,88.20 L256.46,89.74 L256.96,91.31 L257.47,92.90 L257.97,94.50 L258.47,96.09 L258.97,97.64 L259.47,99.13 L259.98,100.53 L260.48,101.82 L260.98,102.95 L261.48,103.93 L261.98,104.75 L262.49,105.41 L262.99,105.92 L263.49,106.31 L263.99,106.60 L264.49,106.81 L265.00,106.97 L265.50,107.08 L266.00,107.16 L266.50,107.21 L267.00,107.25 L267.51,107.28 L268.01,107.30 L268.51,107.32 L269.01,107.33 L269.51,107.34 L270.02,107.34 L270.52,107.35 L271.02,107.35 L271.52,107.35 L272.02,107.36 L272.53,107.36 L273.03,107.36 L273.53,107.36 L274.03,107.36 L274.53,107.36 L275.04,107.36 L275.54,107.36 L276.04,107.36 L276.54,107.36 L277.04,107.36 L277.55,107.36 L278.05,107.36 L278.55,107.36 L279.05,107.36 L279.55,107.36 L280.06,107.36 L280.56,107.36 L281.06,107.36 L281.56,107.36 L282.06,107.36 L282.57,107.36 L283.07,107.36 L283.57,107.36 L284.07,107.36 L284.57,107.36 L285.08,107.36 L285.58,107.36 L286.08,107.35 L286.58,107.34 L287.08,107.31 L287.59,107.25 L288.09,107.13 L288.59,106.93 L289.09,106.65 L289.59,106.31 L290.10,105.97 L290.60,105.72 L291.10,105.63" fill="none" stroke="#c8102e" stroke-width="1.0" stroke-dasharray="2,1.6" stroke-linejoin="round"/>
<line x1="249.33" y1="79.66" x2="249.33" y2="108.70" stroke="#e7a0c8" stroke-width="0.5"/>
<line x1="238.40" y1="70.30" x2="246.80" y2="70.30" stroke="#b0123a" stroke-width="1.0"/>
<path d="M235.40,70.30 L239.20,68.30 L238.70,70.30 L239.20,72.30 Z" fill="#b0123a"/>
<path d="M249.80,70.30 L246.00,68.30 L246.50,70.30 L246.00,72.30 Z" fill="#b0123a"/>
<line x1="215.80" y1="55.20" x2="215.80" y2="109.60" stroke="#2a2a2a" stroke-width="1.4"/>
<line x1="215.10" y1="108.70" x2="298.70" y2="108.70" stroke="#2a2a2a" stroke-width="1.8"/>
<line x1="212.80" y1="101.30" x2="215.80" y2="101.30" stroke="#2a2a2a" stroke-width="1.0"/>
<text x="209.00" y="103.90" font-size="8.0" text-anchor="end" fill="#333" color="#333">0</text>
<line x1="212.80" y1="86.87" x2="215.80" y2="86.87" stroke="#2a2a2a" stroke-width="1.0"/>
<text x="209.00" y="89.47" font-size="8.0" text-anchor="end" fill="#333" color="#333">1000</text>
<line x1="212.80" y1="72.44" x2="215.80" y2="72.44" stroke="#2a2a2a" stroke-width="1.0"/>
<text x="209.00" y="75.04" font-size="8.0" text-anchor="end" fill="#333" color="#333">2000</text>
<line x1="212.80" y1="58.01" x2="215.80" y2="58.01" stroke="#2a2a2a" stroke-width="1.0"/>
<text x="209.00" y="60.61" font-size="8.0" text-anchor="end" fill="#333" color="#333">3000</text>
<line x1="235.88" y1="108.70" x2="235.88" y2="111.30" stroke="#2a2a2a" stroke-width="1.0"/>
<line x1="255.96" y1="108.70" x2="255.96" y2="111.30" stroke="#2a2a2a" stroke-width="1.0"/>
<line x1="276.04" y1="108.70" x2="276.04" y2="111.30" stroke="#2a2a2a" stroke-width="1.0"/>
<line x1="296.12" y1="108.70" x2="296.12" y2="111.30" stroke="#2a2a2a" stroke-width="1.0"/>
<text x="235.88" y="121.60" font-size="8.2" text-anchor="middle" fill="#333" color="#333">40</text>
<text x="255.96" y="121.60" font-size="8.2" text-anchor="middle" fill="#333" color="#333">60</text>
<text x="276.04" y="121.60" font-size="8.2" text-anchor="middle" fill="#333" color="#333">80</text>
<text x="296.12" y="121.60" font-size="8.2" text-anchor="middle" fill="#333" color="#333">100</text>
<text x="235.80" y="43.50" font-size="8.4" fill="#333" color="#333" textLength="39.30000000000001" lengthAdjust="spacingAndGlyphs">SH2D LOF</text>
<text transform="translate(185.20,81.50) rotate(-90)" x="0" y="0" font-size="9.6" text-anchor="middle" fill="#333" color="#333" textLength="18.5" lengthAdjust="spacingAndGlyphs">dF/dT</text>
<text x="231.20" y="135.90" font-size="10.0" fill="#333" color="#333" textLength="53.69999999999999" lengthAdjust="spacingAndGlyphs">Temperature (c)</text>
<line x1="294.10" y1="43.70" x2="304.00" y2="43.70" stroke="#c8102e" stroke-width="1.1" stroke-dasharray="2,1.6"/>
<text x="307.60" y="46.30" font-size="7.3" fill="#333" color="#333">WT</text>
<line x1="294.10" y1="53.58" x2="304.00" y2="53.58" stroke="#3d5b94" stroke-width="1.1"/>
<text x="307.60" y="56.18" font-size="7.3" fill="#333" color="#333" textLength="23.3" lengthAdjust="spacingAndGlyphs">T6222I</text>
<line x1="294.10" y1="63.46" x2="304.00" y2="63.46" stroke="#4a2f85" stroke-width="1.1"/>
<text x="307.60" y="66.06" font-size="7.3" fill="#333" color="#333">S636Y</text>
<line x1="294.10" y1="73.34" x2="304.00" y2="73.34" stroke="#6e648c" stroke-width="1.1"/>
<text x="307.60" y="75.94" font-size="7.3" fill="#333" color="#333" textLength="24.2" lengthAdjust="spacingAndGlyphs">V637M</text>
<line x1="294.10" y1="83.22" x2="304.00" y2="83.22" stroke="#f2b134" stroke-width="1.1"/>
<text x="307.60" y="85.82" font-size="7.3" fill="#333" color="#333">N647D</text>
<line x1="294.10" y1="93.10" x2="304.00" y2="93.10" stroke="#9a1a3c" stroke-width="1.1"/>
<text x="307.60" y="95.70" font-size="7.3" fill="#333" color="#333">Y657S</text>
<line x1="294.10" y1="102.98" x2="304.00" y2="102.98" stroke="#3f9a47" stroke-width="1.1"/>
<text x="307.60" y="105.58" font-size="7.3" fill="#333" color="#333">S668Y</text>
<line x1="386.30" y1="99.40" x2="464.50" y2="99.40" stroke="#c9c3cf" stroke-width="0.9"/>
<path d="M386.00,99.40 L386.48,99.40 L386.96,99.40 L387.44,99.40 L387.92,99.40 L388.40,99.40 L388.88,99.39 L389.36,99.39 L389.84,99.39 L390.32,99.39 L390.80,99.38 L391.27,99.38 L391.75,99.37 L392.23,99.36 L392.71,99.35 L393.19,99.34 L393.67,99.32 L394.15,99.30 L394.63,99.27 L395.11,99.24 L395.59,99.20 L396.07,99.15 L396.55,99.09 L397.03,99.01 L397.51,98.92 L397.99,98.82 L398.47,98.69 L398.95,98.54 L399.43,98.37 L399.91,98.16 L400.38,97.92 L400.86,97.65 L401.34,97.33 L401.82,96.97 L402.30,96.56 L402.78,96.10 L403.26,95.58 L403.74,95.01 L404.22,94.37 L404.70,93.68 L405.18,92.91 L405.66,92.09 L406.14,91.20 L406.62,90.25 L407.10,89.24 L407.58,88.17 L408.06,87.06 L408.54,85.91 L409.02,84.73 L409.50,83.52 L409.98,82.30 L410.45,81.08 L410.93,79.87 L411.41,78.69 L411.89,77.56 L412.37,76.47 L412.85,75.45 L413.33,74.52 L413.81,73.68 L414.29,72.95 L414.77,72.34 L415.25,71.85 L415.73,71.50 L416.21,71.29 L416.69,71.22 L417.17,71.45 L417.65,72.13 L418.13,73.23 L418.61,74.68 L419.09,76.43 L419.56,78.38 L420.04,80.44 L420.52,82.52 L421.00,84.53 L421.48,86.40 L421.96,88.05 L422.44,89.46 L422.92,90.62 L423.40,91.57 L423.88,92.35 L424.36,93.04 L424.84,93.72 L425.32,94.44 L425.80,95.26 L426.28,96.18 L426.76,97.19 L427.24,98.26 L427.72,99.34 L428.20,100.40 L428.68,101.40 L429.15,102.31 L429.63,103.15 L430.11,103.89 L430.59,104.54 L431.07,105.11 L431.55,105.61 L432.03,106.03 L432.51,106.39 L432.99,106.70 L433.47,106.95 L433.95,107.15 L434.43,107.32 L434.91,107.46 L435.39,107.57 L435.87,107.65 L436.35,107.72 L436.83,107.78 L437.31,107.82 L437.79,107.85 L438.27,107.88 L438.75,107.90 L439.22,107.92 L439.70,107.93 L440.18,107.94 L440.66,107.95 L441.14,107.95 L441.62,107.96 L442.10,107.96 L442.58,107.96 L443.06,107.96 L443.54,107.97 L444.02,107.97 L444.50,107.97 L444.98,107.97 L445.46,107.97 L445.94,107.97 L446.42,107.97 L446.90,107.97 L447.38,107.97 L447.86,107.97 L448.33,107.97 L448.81,107.97 L449.29,107.97 L449.77,107.97 L450.25,107.97 L450.73,107.97 L451.21,107.97 L451.69,107.97 L452.17,107.97 L452.65,107.97 L453.13,107.96 L453.61,107.94 L454.09,107.89 L454.57,107.78 L455.05,107.59 L455.53,107.26 L456.01,106.80 L456.49,106.24 L456.97,105.68 L457.45,105.27 L457.93,105.11" fill="none" stroke="#c9cfc6" stroke-width="0.95" stroke-linejoin="round"/>
<path d="M386.00,99.40 L386.48,99.40 L386.96,99.40 L387.44,99.40 L387.92,99.40 L388.40,99.40 L388.88,99.40 L389.36,99.39 L389.84,99.39 L390.32,99.39 L390.80,99.39 L391.27,99.38 L391.75,99.37 L392.23,99.37 L392.71,99.36 L393.19,99.34 L393.67,99.33 L394.15,99.31 L394.63,99.29 L395.11,99.26 L395.59,99.22 L396.07,99.17 L396.55,99.12 L397.03,99.05 L397.51,98.97 L397.99,98.87 L398.47,98.75 L398.95,98.62 L399.43,98.45 L399.91,98.26 L400.38,98.04 L400.86,97.78 L401.34,97.49 L401.82,97.15 L402.30,96.77 L402.78,96.33 L403.26,95.85 L403.74,95.30 L404.22,94.70 L404.70,94.04 L405.18,93.31 L405.66,92.52 L406.14,91.67 L406.62,90.75 L407.10,89.78 L407.58,88.75 L408.06,87.67 L408.54,86.55 L409.02,85.40 L409.50,84.21 L409.98,83.01 L410.45,81.81 L410.93,80.61 L411.41,79.44 L411.89,78.29 L412.37,77.20 L412.85,76.17 L413.33,75.21 L413.81,74.35 L414.29,73.58 L414.77,72.93 L415.25,72.40 L415.73,72.00 L416.21,71.73 L416.69,71.61 L417.17,71.68 L417.65,72.18 L418.13,73.10 L418.61,74.40 L419.09,76.01 L419.56,77.86 L420.04,79.85 L420.52,81.88 L421.00,83.88 L421.48,85.75 L421.96,87.43 L422.44,88.89 L422.92,90.11 L423.40,91.12 L423.88,91.96 L424.36,92.71 L424.84,93.45 L425.32,94.23 L425.80,95.09 L426.28,96.05 L426.76,97.09 L427.24,98.19 L427.72,99.29 L428.20,100.36 L428.68,101.37 L429.15,102.30 L429.63,103.13 L430.11,103.88 L430.59,104.54 L431.07,105.11 L431.55,105.61 L432.03,106.03 L432.51,106.39 L432.99,106.70 L433.47,106.95 L433.95,107.15 L434.43,107.32 L434.91,107.46 L435.39,107.57 L435.87,107.65 L436.35,107.72 L436.83,107.78 L437.31,107.82 L437.79,107.85 L438.27,107.88 L438.75,107.90 L439.22,107.92 L439.70,107.93 L440.18,107.94 L440.66,107.95 L441.14,107.95 L441.62,107.96 L442.10,107.96 L442.58,107.96 L443.06,107.96 L443.54,107.97 L444.02,107.97 L444.50,107.97 L444.98,107.97 L445.46,107.97 L445.94,107.97 L446.42,107.97 L446.90,107.97 L447.38,107.97 L447.86,107.97 L448.33,107.97 L448.81,107.97 L449.29,107.97 L449.77,107.97 L450.25,107.97 L450.73,107.97 L451.21,107.97 L451.69,107.97 L452.17,107.97 L452.65,107.97 L453.13,107.96 L453.61,107.94 L454.09,107.89 L454.57,107.78 L455.05,107.59 L455.53,107.26 L456.01,106.80 L456.49,106.24 L456.97,105.68 L457.45,105.27 L457.93,105.11" fill="none" stroke="#9fcf98" stroke-width="0.95" stroke-linejoin="round"/>
<path d="M386.00,99.40 L386.48,99.40 L386.96,99.40 L387.44,99.40 L387.92,99.40 L388.40,99.39 L388.88,99.39 L389.36,99.39 L389.84,99.39 L390.32,99.38 L390.80,99.38 L391.27,99.37 L391.75,99.36 L392.23,99.35 L392.71,99.34 L393.19,99.32 L393.67,99.30 L394.15,99.28 L394.63,99.24 L395.11,99.20 L395.59,99.16 L396.07,99.10 L396.55,99.02 L397.03,98.94 L397.51,98.83 L397.99,98.71 L398.47,98.56 L398.95,98.39 L399.43,98.19 L399.91,97.95 L400.38,97.68 L400.86,97.37 L401.34,97.01 L401.82,96.61 L402.30,96.15 L402.78,95.64 L403.26,95.07 L403.74,94.44 L404.22,93.75 L404.70,92.99 L405.18,92.16 L405.66,91.27 L406.14,90.32 L406.62,89.31 L407.10,88.24 L407.58,87.13 L408.06,85.97 L408.54,84.77 L409.02,83.55 L409.50,82.32 L409.98,81.08 L410.45,79.85 L410.93,78.65 L411.41,77.49 L411.89,76.38 L412.37,75.33 L412.85,74.37 L413.33,73.50 L413.81,72.73 L414.29,72.09 L414.77,71.57 L415.25,71.18 L415.73,70.94 L416.21,70.84 L416.69,70.99 L417.17,71.63 L417.65,72.71 L418.13,74.19 L418.61,75.99 L419.09,78.03 L419.56,80.20 L420.04,82.41 L420.52,84.57 L421.00,86.58 L421.48,88.38 L421.96,89.92 L422.44,91.17 L422.92,92.16 L423.40,92.91 L423.88,93.49 L424.36,94.00 L424.84,94.50 L425.32,95.07 L425.80,95.75 L426.28,96.56 L426.76,97.48 L427.24,98.47 L427.72,99.50 L428.20,100.51 L428.68,101.47 L429.15,102.37 L429.63,103.18 L430.11,103.91 L430.59,104.56 L431.07,105.12 L431.55,105.61 L432.03,106.04 L432.51,106.40 L432.99,106.70 L433.47,106.95 L433.95,107.15 L434.43,107.32 L434.91,107.46 L435.39,107.57 L435.87,107.65 L436.35,107.72 L436.83,107.78 L437.31,107.82 L437.79,107.85 L438.27,107.88 L438.75,107.90 L439.22,107.92 L439.70,107.93 L440.18,107.94 L440.66,107.95 L441.14,107.95 L441.62,107.96 L442.10,107.96 L442.58,107.96 L443.06,107.96 L443.54,107.97 L444.02,107.97 L444.50,107.97 L444.98,107.97 L445.46,107.97 L445.94,107.97 L446.42,107.97 L446.90,107.97 L447.38,107.97 L447.86,107.97 L448.33,107.97 L448.81,107.97 L449.29,107.97 L449.77,107.97 L450.25,107.97 L450.73,107.97 L451.21,107.97 L451.69,107.97 L452.17,107.97 L452.65,107.97 L453.13,107.96 L453.61,107.94 L454.09,107.89 L454.57,107.78 L455.05,107.59 L455.53,107.26 L456.01,106.80 L456.49,106.24 L456.97,105.68 L457.45,105.27 L457.93,105.11" fill="none" stroke="#3f2340" stroke-width="0.95" stroke-linejoin="round"/>
<path d="M386.00,99.40 L386.48,99.40 L386.96,99.40 L387.44,99.40 L387.92,99.40 L388.40,99.40 L388.88,99.40 L389.36,99.40 L389.84,99.40 L390.32,99.40 L390.80,99.40 L391.27,99.40 L391.75,99.40 L392.23,99.40 L392.71,99.40 L393.19,99.40 L393.67,99.40 L394.15,99.39 L394.63,99.39 L395.11,99.39 L395.59,99.39 L396.07,99.38 L396.55,99.37 L397.03,99.36 L397.51,99.35 L397.99,99.34 L398.47,99.32 L398.95,99.29 L399.43,99.26 L399.91,99.21 L400.38,99.16 L400.86,99.10 L401.34,99.01 L401.82,98.91 L402.30,98.79 L402.78,98.64 L403.26,98.46 L403.74,98.25 L404.22,98.00 L404.70,97.70 L405.18,97.35 L405.66,96.94 L406.14,96.47 L406.62,95.94 L407.10,95.33 L407.58,94.64 L408.06,93.87 L408.54,93.03 L409.02,92.09 L409.50,91.07 L409.98,89.97 L410.45,88.80 L410.93,87.55 L411.41,86.23 L411.89,84.86 L412.37,83.45 L412.85,82.01 L413.33,80.57 L413.81,79.13 L414.29,77.71 L414.77,76.35 L415.25,75.05 L415.73,73.84 L416.21,72.74 L416.69,71.77 L417.17,70.94 L417.65,70.28 L418.13,69.78 L418.61,69.47 L419.09,69.34 L419.56,69.52 L420.04,70.25 L420.52,71.49 L421.00,73.17 L421.48,75.18 L421.96,77.42 L422.44,79.76 L422.92,82.10 L423.40,84.37 L423.88,86.52 L424.36,88.51 L424.84,90.34 L425.32,92.05 L425.80,93.64 L426.28,95.14 L426.76,96.58 L427.24,97.93 L427.72,99.20 L428.20,100.38 L428.68,101.43 L429.15,102.36 L429.63,103.16 L430.11,103.83 L430.59,104.39 L431.07,104.85 L431.55,105.21 L432.03,105.51 L432.51,105.74 L432.99,105.93 L433.47,106.08 L433.95,106.20 L434.43,106.29 L434.91,106.37 L435.39,106.43 L435.87,106.47 L436.35,106.51 L436.83,106.54 L437.31,106.56 L437.79,106.58 L438.27,106.59 L438.75,106.60 L439.22,106.61 L439.70,106.62 L440.18,106.62 L440.66,106.63 L441.14,106.63 L441.62,106.63 L442.10,106.63 L442.58,106.63 L443.06,106.63 L443.54,106.64 L444.02,106.64 L444.50,106.64 L444.98,106.64 L445.46,106.64 L445.94,106.64 L446.42,106.64 L446.90,106.64 L447.38,106.64 L447.86,106.64 L448.33,106.64 L448.81,106.64 L449.29,106.64 L449.77,106.64 L450.25,106.64 L450.73,106.64 L451.21,106.64 L451.69,106.64 L452.17,106.64 L452.65,106.64 L453.13,106.63 L453.61,106.62 L454.09,106.58 L454.57,106.51 L455.05,106.38 L455.53,106.16 L456.01,105.86 L456.49,105.48 L456.97,105.11 L457.45,104.84 L457.93,104.73" fill="none" stroke="#d4245a" stroke-width="1.0" stroke-dasharray="2,1.6" stroke-linejoin="round"/>
<line x1="419.37" y1="69.87" x2="419.37" y2="108.80" stroke="#bfe2f3" stroke-width="0.5"/>
<line x1="408.60" y1="65.00" x2="415.80" y2="65.00" stroke="#b0123a" stroke-width="1.0"/>
<path d="M405.60,65.00 L409.40,63.00 L408.90,65.00 L409.40,67.00 Z" fill="#b0123a"/>
<path d="M418.80,65.00 L415.00,63.00 L415.50,65.00 L415.00,67.00 Z" fill="#b0123a"/>
<line x1="386.30" y1="58.70" x2="386.30" y2="109.70" stroke="#2a2a2a" stroke-width="1.4"/>
<line x1="385.60" y1="108.80" x2="464.70" y2="108.80" stroke="#2a2a2a" stroke-width="1.8"/>
<line x1="383.30" y1="99.40" x2="386.30" y2="99.40" stroke="#2a2a2a" stroke-width="1.0"/>
<text x="379.40" y="102.00" font-size="8.0" text-anchor="end" fill="#333" color="#333">0</text>
<line x1="383.30" y1="80.35" x2="386.30" y2="80.35" stroke="#2a2a2a" stroke-width="1.0"/>
<text x="379.40" y="82.95" font-size="8.0" text-anchor="end" fill="#333" color="#333">1000</text>
<line x1="383.30" y1="61.30" x2="386.30" y2="61.30" stroke="#2a2a2a" stroke-width="1.0"/>
<text x="379.40" y="63.90" font-size="8.0" text-anchor="end" fill="#333" color="#333">2000</text>
<line x1="405.18" y1="108.80" x2="405.18" y2="111.40" stroke="#2a2a2a" stroke-width="1.0"/>
<line x1="424.36" y1="108.80" x2="424.36" y2="111.40" stroke="#2a2a2a" stroke-width="1.0"/>
<line x1="443.54" y1="108.80" x2="443.54" y2="111.40" stroke="#2a2a2a" stroke-width="1.0"/>
<line x1="462.72" y1="108.80" x2="462.72" y2="111.40" stroke="#2a2a2a" stroke-width="1.0"/>
<text x="405.18" y="121.60" font-size="8.2" text-anchor="middle" fill="#333" color="#333">40</text>
<text x="424.36" y="121.60" font-size="8.2" text-anchor="middle" fill="#333" color="#333">60</text>
<text x="443.54" y="121.60" font-size="8.2" text-anchor="middle" fill="#333" color="#333">80</text>
<text x="462.72" y="121.60" font-size="8.2" text-anchor="middle" fill="#333" color="#333">100</text>
<text x="405.10" y="43.50" font-size="8.4" fill="#333" color="#333" textLength="41.299999999999955" lengthAdjust="spacingAndGlyphs">SH2D GOF</text>
<text transform="translate(355.50,83.60) rotate(-90)" x="0" y="0" font-size="9.6" text-anchor="middle" fill="#333" color="#333" textLength="18.3" lengthAdjust="spacingAndGlyphs">dF/dT</text>
<text x="399.00" y="135.90" font-size="10.0" fill="#333" color="#333" textLength="53.60000000000002" lengthAdjust="spacingAndGlyphs">Temperature (c)</text>
<line x1="464.00" y1="61.90" x2="473.50" y2="61.90" stroke="#d4245a" stroke-width="1.1" stroke-dasharray="2,1.6"/>
<text x="476.90" y="64.50" font-size="7.3" fill="#333" color="#333">WT</text>
<line x1="464.00" y1="71.87" x2="473.50" y2="71.87" stroke="#c9cfc6" stroke-width="1.1"/>
<text x="476.90" y="74.47" font-size="7.3" fill="#333" color="#333">Y640F</text>
<line x1="464.00" y1="81.84" x2="473.50" y2="81.84" stroke="#3f2340" stroke-width="1.1"/>
<text x="476.90" y="84.44" font-size="7.3" fill="#333" color="#333">K658Y</text>
<line x1="464.00" y1="91.81" x2="473.50" y2="91.81" stroke="#9fcf98" stroke-width="1.1"/>
<text x="476.90" y="94.41" font-size="7.3" fill="#333" color="#333">D661Y</text>
<line x1="49.30" y1="236.50" x2="122.70" y2="236.50" stroke="#c9c3cf" stroke-width="0.9"/>
<path d="M49.20,236.50 L49.67,236.50 L50.13,236.50 L50.60,236.50 L51.07,236.50 L51.53,236.50 L52.00,236.50 L52.47,236.50 L52.93,236.50 L53.40,236.50 L53.87,236.50 L54.33,236.50 L54.80,236.50 L55.26,236.50 L55.73,236.50 L56.20,236.50 L56.66,236.50 L57.13,236.50 L57.60,236.50 L58.06,236.50 L58.53,236.50 L59.00,236.50 L59.46,236.50 L59.93,236.50 L60.40,236.50 L60.86,236.50 L61.33,236.50 L61.80,236.50 L62.26,236.50 L62.73,236.50 L63.20,236.50 L63.66,236.50 L64.13,236.50 L64.59,236.50 L65.06,236.50 L65.53,236.50 L65.99,236.50 L66.46,236.50 L66.93,236.50 L67.39,236.50 L67.86,236.50 L68.33,236.50 L68.79,236.50 L69.26,236.50 L69.73,236.50 L70.19,236.50 L70.66,236.50 L71.13,236.50 L71.59,236.50 L72.06,236.50 L72.53,236.50 L72.99,236.49 L73.46,236.49 L73.92,236.49 L74.39,236.48 L74.86,236.47 L75.32,236.46 L75.79,236.45 L76.26,236.43 L76.72,236.40 L77.19,236.36 L77.66,236.30 L78.12,236.24 L78.59,236.14 L79.06,236.03 L79.52,235.88 L79.99,235.69 L80.46,235.45 L80.92,235.16 L81.39,234.81 L81.86,234.38 L82.32,233.87 L82.79,233.27 L83.25,232.58 L83.72,231.78 L84.19,230.88 L84.65,229.87 L85.12,228.76 L85.59,227.55 L86.05,226.26 L86.52,224.89 L86.99,223.48 L87.45,222.04 L87.92,220.60 L88.39,219.19 L88.85,217.84 L89.32,216.59 L89.79,215.47 L90.25,214.51 L90.72,213.74 L91.19,213.18 L91.65,212.85 L92.12,212.76 L92.58,212.99 L93.05,213.59 L93.52,214.55 L93.98,215.82 L94.45,217.37 L94.92,219.15 L95.38,221.08 L95.85,223.13 L96.32,225.21 L96.78,227.29 L97.25,229.31 L97.72,231.21 L98.18,232.96 L98.65,234.54 L99.12,235.91 L99.58,237.09 L100.05,238.06 L100.52,238.86 L100.98,239.49 L101.45,239.99 L101.91,240.37 L102.38,240.66 L102.85,240.87 L103.31,241.03 L103.78,241.14 L104.25,241.22 L104.71,241.28 L105.18,241.32 L105.65,241.35 L106.11,241.37 L106.58,241.38 L107.05,241.39 L107.51,241.40 L107.98,241.40 L108.45,241.40 L108.91,241.40 L109.38,241.40 L109.84,241.41 L110.31,241.41 L110.78,241.41 L111.24,241.41 L111.71,241.41 L112.18,241.41 L112.64,241.41 L113.11,241.41 L113.58,241.41 L114.04,241.40 L114.51,241.40 L114.98,241.38 L115.44,241.34 L115.91,241.25 L116.38,241.07 L116.84,240.80 L117.31,240.40 L117.78,239.92 L118.24,239.44 L118.71,239.09 L119.18,238.95" fill="none" stroke="#c8102e" stroke-width="1.0" stroke-dasharray="2,1.6" stroke-linejoin="round"/>
<path d="M49.20,236.50 L49.67,236.50 L50.13,236.50 L50.60,236.50 L51.07,236.50 L51.53,236.50 L52.00,236.50 L52.47,236.50 L52.93,236.50 L53.40,236.50 L53.87,236.50 L54.33,236.50 L54.80,236.50 L55.26,236.50 L55.73,236.50 L56.20,236.50 L56.66,236.50 L57.13,236.50 L57.60,236.50 L58.06,236.50 L58.53,236.50 L59.00,236.50 L59.46,236.50 L59.93,236.50 L60.40,236.50 L60.86,236.50 L61.33,236.50 L61.80,236.50 L62.26,236.50 L62.73,236.50 L63.20,236.50 L63.66,236.50 L64.13,236.50 L64.59,236.50 L65.06,236.50 L65.53,236.50 L65.99,236.50 L66.46,236.50 L66.93,236.50 L67.39,236.50 L67.86,236.50 L68.33,236.50 L68.79,236.50 L69.26,236.50 L69.73,236.50 L70.19,236.50 L70.66,236.50 L71.13,236.50 L71.59,236.50 L72.06,236.50 L72.53,236.50 L72.99,236.50 L73.46,236.49 L73.92,236.49 L74.39,236.49 L74.86,236.48 L75.32,236.47 L75.79,236.46 L76.26,236.44 L76.72,236.42 L77.19,236.39 L77.66,236.35 L78.12,236.29 L78.59,236.21 L79.06,236.11 L79.52,235.97 L79.99,235.80 L80.46,235.59 L80.92,235.32 L81.39,235.00 L81.86,234.60 L82.32,234.12 L82.79,233.55 L83.25,232.89 L83.72,232.12 L84.19,231.25 L84.65,230.28 L85.12,229.20 L85.59,228.04 L86.05,226.79 L86.52,225.48 L86.99,224.12 L87.45,222.75 L87.92,221.40 L88.39,220.10 L88.85,218.88 L89.32,217.78 L89.79,216.84 L90.25,216.08 L90.72,215.54 L91.19,215.23 L91.65,215.19 L92.12,215.60 L92.58,216.81 L93.05,218.73 L93.52,221.18 L93.98,223.97 L94.45,226.87 L94.92,229.68 L95.38,232.25 L95.85,234.49 L96.32,236.33 L96.78,237.79 L97.25,238.90 L97.72,239.70 L98.18,240.27 L98.65,240.65 L99.12,240.91 L99.58,241.08 L100.05,241.19 L100.52,241.26 L100.98,241.31 L101.45,241.34 L101.91,241.36 L102.38,241.37 L102.85,241.38 L103.31,241.39 L103.78,241.39 L104.25,241.40 L104.71,241.40 L105.18,241.40 L105.65,241.40 L106.11,241.40 L106.58,241.40 L107.05,241.41 L107.51,241.41 L107.98,241.41 L108.45,241.41 L108.91,241.41 L109.38,241.41 L109.84,241.41 L110.31,241.41 L110.78,241.41 L111.24,241.41 L111.71,241.41 L112.18,241.41 L112.64,241.41 L113.11,241.41 L113.58,241.41 L114.04,241.40 L114.51,241.40 L114.98,241.38 L115.44,241.34 L115.91,241.25 L116.38,241.07 L116.84,240.80 L117.31,240.40 L117.78,239.92 L118.24,239.44 L118.71,239.09 L119.18,238.95" fill="none" stroke="#7bbfdc" stroke-width="0.95" stroke-linejoin="round"/>
<path d="M49.20,236.50 L49.67,236.50 L50.13,236.50 L50.60,236.50 L51.07,236.50 L51.53,236.50 L52.00,236.50 L52.47,236.50 L52.93,236.50 L53.40,236.50 L53.87,236.50 L54.33,236.50 L54.80,236.50 L55.26,236.50 L55.73,236.50 L56.20,236.50 L56.66,236.50 L57.13,236.50 L57.60,236.50 L58.06,236.50 L58.53,236.50 L59.00,236.50 L59.46,236.50 L59.93,236.50 L60.40,236.50 L60.86,236.50 L61.33,236.50 L61.80,236.50 L62.26,236.50 L62.73,236.50 L63.20,236.50 L63.66,236.50 L64.13,236.50 L64.59,236.50 L65.06,236.50 L65.53,236.50 L65.99,236.50 L66.46,236.50 L66.93,236.50 L67.39,236.50 L67.86,236.50 L68.33,236.50 L68.79,236.50 L69.26,236.50 L69.73,236.50 L70.19,236.50 L70.66,236.50 L71.13,236.50 L71.59,236.50 L72.06,236.50 L72.53,236.49 L72.99,236.49 L73.46,236.49 L73.92,236.48 L74.39,236.47 L74.86,236.46 L75.32,236.45 L75.79,236.42 L76.26,236.39 L76.72,236.35 L77.19,236.29 L77.66,236.21 L78.12,236.11 L78.59,235.98 L79.06,235.81 L79.52,235.60 L79.99,235.33 L80.46,235.00 L80.92,234.60 L81.39,234.11 L81.86,233.53 L82.32,232.85 L82.79,232.06 L83.25,231.15 L83.72,230.12 L84.19,228.97 L84.65,227.71 L85.12,226.34 L85.59,224.88 L86.05,223.34 L86.52,221.77 L86.99,220.17 L87.45,218.59 L87.92,217.06 L88.39,215.62 L88.85,214.31 L89.32,213.17 L89.79,212.23 L90.25,211.52 L90.72,211.07 L91.19,210.90 L91.65,211.10 L92.12,212.00 L92.58,213.58 L93.05,215.72 L93.52,218.29 L93.98,221.13 L94.45,224.07 L94.92,226.96 L95.38,229.68 L95.85,232.13 L96.32,234.26 L96.78,236.03 L97.25,237.46 L97.72,238.57 L98.18,239.41 L98.65,240.03 L99.12,240.47 L99.58,240.78 L100.05,240.99 L100.52,241.13 L100.98,241.22 L101.45,241.28 L101.91,241.32 L102.38,241.35 L102.85,241.37 L103.31,241.38 L103.78,241.39 L104.25,241.39 L104.71,241.40 L105.18,241.40 L105.65,241.40 L106.11,241.40 L106.58,241.40 L107.05,241.40 L107.51,241.41 L107.98,241.41 L108.45,241.41 L108.91,241.41 L109.38,241.41 L109.84,241.41 L110.31,241.41 L110.78,241.41 L111.24,241.41 L111.71,241.41 L112.18,241.41 L112.64,241.41 L113.11,241.41 L113.58,241.41 L114.04,241.40 L114.51,241.40 L114.98,241.38 L115.44,241.34 L115.91,241.25 L116.38,241.07 L116.84,240.80 L117.31,240.40 L117.78,239.92 L118.24,239.44 L118.71,239.09 L119.18,238.95" fill="none" stroke="#5cb04e" stroke-width="0.95" stroke-linejoin="round"/>
<path d="M49.20,236.50 L49.67,236.50 L50.13,236.50 L50.60,236.50 L51.07,236.50 L51.53,236.50 L52.00,236.50 L52.47,236.50 L52.93,236.50 L53.40,236.50 L53.87,236.50 L54.33,236.50 L54.80,236.50 L55.26,236.50 L55.73,236.50 L56.20,236.50 L56.66,236.50 L57.13,236.50 L57.60,236.50 L58.06,236.50 L58.53,236.50 L59.00,236.50 L59.46,236.50 L59.93,236.50 L60.40,236.50 L60.86,236.50 L61.33,236.50 L61.80,236.50 L62.26,236.50 L62.73,236.50 L63.20,236.50 L63.66,236.50 L64.13,236.50 L64.59,236.50 L65.06,236.50 L65.53,236.50 L65.99,236.50 L66.46,236.50 L66.93,236.50 L67.39,236.50 L67.86,236.50 L68.33,236.50 L68.79,236.50 L69.26,236.50 L69.73,236.50 L70.19,236.50 L70.66,236.50 L71.13,236.50 L71.59,236.50 L72.06,236.50 L72.53,236.50 L72.99,236.49 L73.46,236.49 L73.92,236.48 L74.39,236.48 L74.86,236.47 L75.32,236.45 L75.79,236.43 L76.26,236.40 L76.72,236.36 L77.19,236.31 L77.66,236.24 L78.12,236.15 L78.59,236.04 L79.06,235.89 L79.52,235.70 L79.99,235.46 L80.46,235.16 L80.92,234.79 L81.39,234.35 L81.86,233.82 L82.32,233.18 L82.79,232.45 L83.25,231.59 L83.72,230.62 L84.19,229.52 L84.65,228.31 L85.12,226.97 L85.59,225.53 L86.05,223.99 L86.52,222.38 L86.99,220.73 L87.45,219.05 L87.92,217.39 L88.39,215.78 L88.85,214.26 L89.32,212.86 L89.79,211.63 L90.25,210.60 L90.72,209.80 L91.19,209.24 L91.65,208.96 L92.12,208.98 L92.58,209.38 L93.05,210.20 L93.52,211.39 L93.98,212.91 L94.45,214.72 L94.92,216.75 L95.38,218.94 L95.85,221.22 L96.32,223.54 L96.78,225.83 L97.25,228.05 L97.72,230.13 L98.18,232.05 L98.65,233.78 L99.12,235.28 L99.58,236.57 L100.05,237.64 L100.52,238.52 L100.98,239.23 L101.45,239.78 L101.91,240.21 L102.38,240.54 L102.85,240.78 L103.31,240.96 L103.78,241.10 L104.25,241.19 L104.71,241.26 L105.18,241.31 L105.65,241.34 L106.11,241.36 L106.58,241.38 L107.05,241.39 L107.51,241.39 L107.98,241.40 L108.45,241.40 L108.91,241.40 L109.38,241.40 L109.84,241.40 L110.31,241.41 L110.78,241.41 L111.24,241.41 L111.71,241.41 L112.18,241.41 L112.64,241.41 L113.11,241.41 L113.58,241.41 L114.04,241.40 L114.51,241.40 L114.98,241.38 L115.44,241.34 L115.91,241.25 L116.38,241.07 L116.84,240.80 L117.31,240.40 L117.78,239.92 L118.24,239.44 L118.71,239.09 L119.18,238.95" fill="none" stroke="#eea236" stroke-width="0.95" stroke-linejoin="round"/>
<path d="M49.20,236.50 L49.67,236.50 L50.13,236.50 L50.60,236.50 L51.07,236.50 L51.53,236.50 L52.00,236.50 L52.47,236.50 L52.93,236.50 L53.40,236.50 L53.87,236.50 L54.33,236.50 L54.80,236.50 L55.26,236.50 L55.73,236.50 L56.20,236.50 L56.66,236.50 L57.13,236.50 L57.60,236.50 L58.06,236.50 L58.53,236.50 L59.00,236.50 L59.46,236.50 L59.93,236.50 L60.40,236.50 L60.86,236.50 L61.33,236.50 L61.80,236.50 L62.26,236.50 L62.73,236.50 L63.20,236.50 L63.66,236.50 L64.13,236.50 L64.59,236.50 L65.06,236.50 L65.53,236.50 L65.99,236.50 L66.46,236.50 L66.93,236.50 L67.39,236.50 L67.86,236.50 L68.33,236.50 L68.79,236.50 L69.26,236.50 L69.73,236.50 L70.19,236.50 L70.66,236.50 L71.13,236.50 L71.59,236.50 L72.06,236.50 L72.53,236.50 L72.99,236.50 L73.46,236.50 L73.92,236.49 L74.39,236.49 L74.86,236.48 L75.32,236.48 L75.79,236.47 L76.26,236.45 L76.72,236.43 L77.19,236.40 L77.66,236.36 L78.12,236.31 L78.59,236.24 L79.06,236.15 L79.52,236.04 L79.99,235.88 L80.46,235.69 L80.92,235.46 L81.39,235.16 L81.86,234.80 L82.32,234.36 L82.79,233.85 L83.25,233.23 L83.72,232.52 L84.19,231.71 L84.65,230.79 L85.12,229.76 L85.59,228.63 L86.05,227.40 L86.52,226.10 L86.99,224.72 L87.45,223.31 L87.92,221.88 L88.39,220.46 L88.85,219.09 L89.32,217.80 L89.79,216.62 L90.25,215.58 L90.72,214.73 L91.19,214.07 L91.65,213.65 L92.12,213.46 L92.58,213.54 L93.05,213.97 L93.52,214.74 L93.98,215.83 L94.45,217.20 L94.92,218.80 L95.38,220.59 L95.85,222.51 L96.32,224.51 L96.78,226.53 L97.25,228.53 L97.72,230.43 L98.18,232.22 L98.65,233.84 L99.12,235.28 L99.58,236.52 L100.05,237.57 L100.52,238.44 L100.98,239.14 L101.45,239.70 L101.91,240.14 L102.38,240.48 L102.85,240.73 L103.31,240.93 L103.78,241.07 L104.25,241.17 L104.71,241.24 L105.18,241.29 L105.65,241.33 L106.11,241.35 L106.58,241.37 L107.05,241.38 L107.51,241.39 L107.98,241.40 L108.45,241.40 L108.91,241.40 L109.38,241.40 L109.84,241.40 L110.31,241.41 L110.78,241.41 L111.24,241.41 L111.71,241.41 L112.18,241.41 L112.64,241.41 L113.11,241.41 L113.58,241.41 L114.04,241.40 L114.51,241.40 L114.98,241.38 L115.44,241.34 L115.91,241.25 L116.38,241.07 L116.84,240.80 L117.31,240.40 L117.78,239.92 L118.24,239.44 L118.71,239.09 L119.18,238.95" fill="none" stroke="#1d4f63" stroke-width="0.95" stroke-linejoin="round"/>
<line x1="49.30" y1="193.10" x2="49.30" y2="244.00" stroke="#2a2a2a" stroke-width="1.4"/>
<line x1="48.60" y1="243.10" x2="126.50" y2="243.10" stroke="#2a2a2a" stroke-width="1.8"/>
<line x1="46.30" y1="236.50" x2="49.30" y2="236.50" stroke="#2a2a2a" stroke-width="1.0"/>
<text x="42.60" y="239.10" font-size="8.0" text-anchor="end" fill="#333" color="#333">0</text>
<line x1="46.30" y1="222.87" x2="49.30" y2="222.87" stroke="#2a2a2a" stroke-width="1.0"/>
<text x="42.60" y="225.47" font-size="8.0" text-anchor="end" fill="#333" color="#333">1000</text>
<line x1="46.30" y1="209.24" x2="49.30" y2="209.24" stroke="#2a2a2a" stroke-width="1.0"/>
<text x="42.60" y="211.84" font-size="8.0" text-anchor="end" fill="#333" color="#333">2000</text>
<line x1="46.30" y1="195.61" x2="49.30" y2="195.61" stroke="#2a2a2a" stroke-width="1.0"/>
<text x="42.60" y="198.21" font-size="8.0" text-anchor="end" fill="#333" color="#333">3000</text>
<line x1="67.86" y1="243.10" x2="67.86" y2="245.70" stroke="#2a2a2a" stroke-width="1.0"/>
<line x1="86.52" y1="243.10" x2="86.52" y2="245.70" stroke="#2a2a2a" stroke-width="1.0"/>
<line x1="105.18" y1="243.10" x2="105.18" y2="245.70" stroke="#2a2a2a" stroke-width="1.0"/>
<line x1="123.84" y1="243.10" x2="123.84" y2="245.70" stroke="#2a2a2a" stroke-width="1.0"/>
<text x="67.86" y="256.50" font-size="8.2" text-anchor="middle" fill="#333" color="#333">40</text>
<text x="86.52" y="256.50" font-size="8.2" text-anchor="middle" fill="#333" color="#333">60</text>
<text x="105.18" y="256.50" font-size="8.2" text-anchor="middle" fill="#333" color="#333">80</text>
<text x="123.84" y="256.50" font-size="8.2" text-anchor="middle" fill="#333" color="#333">100</text>
<text x="61.00" y="178.00" font-size="8.4" fill="#333" color="#333" textLength="56.2" lengthAdjust="spacingAndGlyphs">DBD LOF/GOF</text>
<text transform="translate(19.40,218.00) rotate(-90)" x="0" y="0" font-size="9.6" text-anchor="middle" fill="#333" color="#333" textLength="18.7" lengthAdjust="spacingAndGlyphs">dF/dT</text>
<text x="61.60" y="270.30" font-size="10.0" fill="#333" color="#333" textLength="54.199999999999996" lengthAdjust="spacingAndGlyphs">Temperature (c)</text>
<line x1="117.10" y1="192.80" x2="127.10" y2="192.80" stroke="#c8102e" stroke-width="1.1" stroke-dasharray="2,1.6"/>
<text x="130.40" y="195.40" font-size="7.3" fill="#333" color="#333">WT</text>
<line x1="117.10" y1="202.63" x2="127.10" y2="202.63" stroke="#eea236" stroke-width="1.1"/>
<text x="130.40" y="205.23" font-size="7.3" fill="#333" color="#333" textLength="24.3" lengthAdjust="spacingAndGlyphs">R382W</text>
<line x1="117.10" y1="212.46" x2="127.10" y2="212.46" stroke="#1d4f63" stroke-width="1.1"/>
<text x="130.40" y="215.06" font-size="7.3" fill="#333" color="#333">R423Q</text>
<line x1="117.10" y1="222.29" x2="127.10" y2="222.29" stroke="#5cb04e" stroke-width="1.1"/>
<text x="130.40" y="224.89" font-size="7.3" fill="#333" color="#333">V453del</text>
<line x1="117.10" y1="232.12" x2="127.10" y2="232.12" stroke="#7bbfdc" stroke-width="1.1"/>
<text x="130.40" y="234.72" font-size="7.3" fill="#333" color="#333">Q344H</text>
<line x1="216.20" y1="236.60" x2="292.00" y2="236.60" stroke="#c9c3cf" stroke-width="0.9"/>
<path d="M215.30,236.60 L215.78,236.60 L216.26,236.60 L216.73,236.60 L217.21,236.60 L217.69,236.60 L218.17,236.60 L218.64,236.60 L219.12,236.60 L219.60,236.60 L220.08,236.60 L220.55,236.60 L221.03,236.60 L221.51,236.60 L221.99,236.60 L222.46,236.60 L222.94,236.60 L223.42,236.60 L223.90,236.60 L224.37,236.60 L224.85,236.60 L225.33,236.60 L225.81,236.60 L226.28,236.60 L226.76,236.60 L227.24,236.60 L227.72,236.60 L228.19,236.60 L228.67,236.60 L229.15,236.60 L229.62,236.60 L230.10,236.60 L230.58,236.60 L231.06,236.60 L231.54,236.60 L232.01,236.60 L232.49,236.60 L232.97,236.60 L233.45,236.60 L233.92,236.60 L234.40,236.60 L234.88,236.60 L235.36,236.60 L235.83,236.60 L236.31,236.60 L236.79,236.60 L237.27,236.60 L237.74,236.60 L238.22,236.60 L238.70,236.60 L239.18,236.60 L239.65,236.60 L240.13,236.60 L240.61,236.60 L241.09,236.60 L241.56,236.59 L242.04,236.59 L242.52,236.57 L243.00,236.55 L243.47,236.50 L243.95,236.42 L244.43,236.29 L244.91,236.09 L245.38,235.78 L245.86,235.36 L246.34,234.78 L246.81,234.06 L247.29,233.19 L247.77,232.21 L248.25,231.18 L248.73,230.17 L249.20,229.27 L249.68,228.53 L250.16,228.00 L250.64,227.66 L251.11,227.48 L251.59,227.36 L252.07,227.18 L252.55,226.83 L253.02,226.20 L253.50,225.22 L253.98,223.91 L254.46,222.29 L254.93,220.48 L255.41,218.63 L255.89,216.89 L256.37,215.44 L256.84,214.42 L257.32,213.94 L257.80,214.05 L258.28,214.65 L258.75,215.71 L259.23,217.17 L259.71,218.97 L260.19,221.00 L260.66,223.19 L261.14,225.44 L261.62,227.66 L262.10,229.80 L262.57,231.78 L263.05,233.58 L263.53,235.16 L264.00,236.50 L264.48,237.62 L264.96,238.52 L265.44,239.23 L265.92,239.77 L266.39,240.18 L266.87,240.47 L267.35,240.69 L267.82,240.84 L268.30,240.94 L268.78,241.02 L269.26,241.07 L269.74,241.10 L270.21,241.12 L270.69,241.14 L271.17,241.15 L271.64,241.16 L272.12,241.16 L272.60,241.17 L273.08,241.17 L273.56,241.17 L274.03,241.17 L274.51,241.17 L274.99,241.18 L275.47,241.18 L275.94,241.18 L276.42,241.18 L276.90,241.18 L277.38,241.18 L277.85,241.18 L278.33,241.18 L278.81,241.18 L279.29,241.18 L279.76,241.18 L280.24,241.18 L280.72,241.18 L281.19,241.18 L281.67,241.17 L282.15,241.16 L282.63,241.13 L283.11,241.07 L283.58,240.92 L284.06,240.65 L284.54,240.21 L285.01,239.58 L285.49,238.82 L285.97,238.07 L286.45,237.50 L286.93,237.29" fill="none" stroke="#f4c15a" stroke-width="0.95" stroke-linejoin="round"/>
<path d="M215.30,236.60 L215.78,236.60 L216.26,236.60 L216.73,236.60 L217.21,236.60 L217.69,236.60 L218.17,236.60 L218.64,236.60 L219.12,236.60 L219.60,236.60 L220.08,236.60 L220.55,236.60 L221.03,236.60 L221.51,236.60 L221.99,236.60 L222.46,236.60 L222.94,236.60 L223.42,236.60 L223.90,236.60 L224.37,236.60 L224.85,236.60 L225.33,236.60 L225.81,236.60 L226.28,236.60 L226.76,236.60 L227.24,236.60 L227.72,236.60 L228.19,236.60 L228.67,236.60 L229.15,236.60 L229.62,236.59 L230.10,236.59 L230.58,236.59 L231.06,236.58 L231.54,236.58 L232.01,236.56 L232.49,236.55 L232.97,236.53 L233.45,236.51 L233.92,236.47 L234.40,236.43 L234.88,236.37 L235.36,236.30 L235.83,236.20 L236.31,236.08 L236.79,235.93 L237.27,235.74 L237.74,235.51 L238.22,235.23 L238.70,234.89 L239.18,234.48 L239.65,234.00 L240.13,233.44 L240.61,232.78 L241.09,232.03 L241.56,231.18 L242.04,230.23 L242.52,229.18 L243.00,228.02 L243.47,226.76 L243.95,225.42 L244.43,224.01 L244.91,222.54 L245.38,221.03 L245.86,219.50 L246.34,217.99 L246.81,216.51 L247.29,215.10 L247.77,213.79 L248.25,212.61 L248.73,211.58 L249.20,210.73 L249.68,210.08 L250.16,209.65 L250.64,209.44 L251.11,209.52 L251.59,210.09 L252.07,211.15 L252.55,212.64 L253.02,214.48 L253.50,216.57 L253.98,218.82 L254.46,221.13 L254.93,223.42 L255.41,225.62 L255.89,227.66 L256.37,229.52 L256.84,231.18 L257.32,232.64 L257.80,233.91 L258.28,235.02 L258.75,235.98 L259.23,236.83 L259.71,237.57 L260.19,238.22 L260.66,238.79 L261.14,239.28 L261.62,239.69 L262.10,240.03 L262.57,240.30 L263.05,240.52 L263.53,240.69 L264.00,240.81 L264.48,240.91 L264.96,240.98 L265.44,241.03 L265.92,241.07 L266.39,241.10 L266.87,241.12 L267.35,241.14 L267.82,241.15 L268.30,241.15 L268.78,241.16 L269.26,241.17 L269.74,241.17 L270.21,241.17 L270.69,241.17 L271.17,241.17 L271.64,241.17 L272.12,241.18 L272.60,241.18 L273.08,241.18 L273.56,241.18 L274.03,241.18 L274.51,241.18 L274.99,241.18 L275.47,241.18 L275.94,241.18 L276.42,241.18 L276.90,241.18 L277.38,241.18 L277.85,241.18 L278.33,241.18 L278.81,241.18 L279.29,241.18 L279.76,241.18 L280.24,241.18 L280.72,241.18 L281.19,241.18 L281.67,241.17 L282.15,241.16 L282.63,241.13 L283.11,241.07 L283.58,240.92 L284.06,240.65 L284.54,240.21 L285.01,239.58 L285.49,238.82 L285.97,238.07 L286.45,237.50 L286.93,237.29" fill="none" stroke="#3a9f58" stroke-width="0.95" stroke-linejoin="round"/>
<path d="M215.30,236.60 L215.78,236.60 L216.26,236.60 L216.73,236.60 L217.21,236.60 L217.69,236.60 L218.17,236.60 L218.64,236.60 L219.12,236.60 L219.60,236.60 L220.08,236.60 L220.55,236.60 L221.03,236.60 L221.51,236.60 L221.99,236.60 L222.46,236.60 L222.94,236.60 L223.42,236.60 L223.90,236.60 L224.37,236.60 L224.85,236.60 L225.33,236.60 L225.81,236.60 L226.28,236.60 L226.76,236.60 L227.24,236.60 L227.72,236.60 L228.19,236.60 L228.67,236.60 L229.15,236.59 L229.62,236.59 L230.10,236.59 L230.58,236.58 L231.06,236.57 L231.54,236.56 L232.01,236.55 L232.49,236.53 L232.97,236.50 L233.45,236.47 L233.92,236.42 L234.40,236.37 L234.88,236.29 L235.36,236.19 L235.83,236.07 L236.31,235.92 L236.79,235.73 L237.27,235.49 L237.74,235.21 L238.22,234.87 L238.70,234.46 L239.18,233.98 L239.65,233.41 L240.13,232.76 L240.61,232.02 L241.09,231.17 L241.56,230.23 L242.04,229.19 L242.52,228.04 L243.00,226.81 L243.47,225.50 L243.95,224.11 L244.43,222.68 L244.91,221.21 L245.38,219.73 L245.86,218.27 L246.34,216.85 L246.81,215.50 L247.29,214.25 L247.77,213.13 L248.25,212.17 L248.73,211.38 L249.20,210.79 L249.68,210.41 L250.16,210.26 L250.64,210.42 L251.11,211.07 L251.59,212.18 L252.07,213.70 L252.55,215.53 L253.02,217.59 L253.50,219.79 L253.98,222.02 L254.46,224.22 L254.93,226.31 L255.41,228.24 L255.89,229.98 L256.37,231.52 L256.84,232.86 L257.32,234.02 L257.80,235.02 L258.28,235.89 L258.75,236.65 L259.23,237.32 L259.71,237.93 L260.19,238.48 L260.66,238.97 L261.14,239.41 L261.62,239.78 L262.10,240.09 L262.57,240.34 L263.05,240.54 L263.53,240.70 L264.00,240.82 L264.48,240.91 L264.96,240.98 L265.44,241.03 L265.92,241.07 L266.39,241.10 L266.87,241.12 L267.35,241.14 L267.82,241.15 L268.30,241.15 L268.78,241.16 L269.26,241.17 L269.74,241.17 L270.21,241.17 L270.69,241.17 L271.17,241.17 L271.64,241.17 L272.12,241.18 L272.60,241.18 L273.08,241.18 L273.56,241.18 L274.03,241.18 L274.51,241.18 L274.99,241.18 L275.47,241.18 L275.94,241.18 L276.42,241.18 L276.90,241.18 L277.38,241.18 L277.85,241.18 L278.33,241.18 L278.81,241.18 L279.29,241.18 L279.76,241.18 L280.24,241.18 L280.72,241.18 L281.19,241.18 L281.67,241.17 L282.15,241.16 L282.63,241.13 L283.11,241.07 L283.58,240.92 L284.06,240.65 L284.54,240.21 L285.01,239.58 L285.49,238.82 L285.97,238.07 L286.45,237.50 L286.93,237.29" fill="none" stroke="#8e4b9b" stroke-width="0.95" stroke-linejoin="round"/>
<path d="M215.30,236.60 L215.78,236.60 L216.26,236.60 L216.73,236.60 L217.21,236.60 L217.69,236.60 L218.17,236.60 L218.64,236.60 L219.12,236.60 L219.60,236.60 L220.08,236.60 L220.55,236.60 L221.03,236.60 L221.51,236.60 L221.99,236.60 L222.46,236.60 L222.94,236.60 L223.42,236.60 L223.90,236.60 L224.37,236.59 L224.85,236.59 L225.33,236.59 L225.81,236.58 L226.28,236.57 L226.76,236.56 L227.24,236.54 L227.72,236.52 L228.19,236.48 L228.67,236.44 L229.15,236.39 L229.62,236.32 L230.10,236.23 L230.58,236.11 L231.06,235.97 L231.54,235.79 L232.01,235.57 L232.49,235.30 L232.97,234.98 L233.45,234.61 L233.92,234.17 L234.40,233.67 L234.88,233.09 L235.36,232.44 L235.83,231.73 L236.31,230.94 L236.79,230.10 L237.27,229.21 L237.74,228.27 L238.22,227.31 L238.70,226.35 L239.18,225.39 L239.65,224.47 L240.13,223.60 L240.61,222.81 L241.09,222.12 L241.56,221.54 L242.04,221.09 L242.52,220.77 L243.00,220.60 L243.47,220.61 L243.95,220.99 L244.43,221.72 L244.91,222.70 L245.38,223.81 L245.86,224.94 L246.34,225.99 L246.81,226.86 L247.29,227.52 L247.77,227.96 L248.25,228.23 L248.73,228.39 L249.20,228.55 L249.68,228.78 L250.16,229.15 L250.64,229.69 L251.11,230.40 L251.59,231.23 L252.07,232.14 L252.55,233.04 L253.02,233.90 L253.50,234.65 L253.98,235.29 L254.46,235.81 L254.93,236.22 L255.41,236.55 L255.89,236.82 L256.37,237.07 L256.84,237.32 L257.32,237.58 L257.80,237.87 L258.28,238.19 L258.75,238.53 L259.23,238.89 L259.71,239.24 L260.19,239.58 L260.66,239.89 L261.14,240.16 L261.62,240.38 L262.10,240.57 L262.57,240.72 L263.05,240.83 L263.53,240.92 L264.00,240.98 L264.48,241.03 L264.96,241.07 L265.44,241.10 L265.92,241.12 L266.39,241.14 L266.87,241.15 L267.35,241.15 L267.82,241.16 L268.30,241.17 L268.78,241.17 L269.26,241.17 L269.74,241.17 L270.21,241.17 L270.69,241.17 L271.17,241.18 L271.64,241.18 L272.12,241.18 L272.60,241.18 L273.08,241.18 L273.56,241.18 L274.03,241.18 L274.51,241.18 L274.99,241.18 L275.47,241.18 L275.94,241.18 L276.42,241.18 L276.90,241.18 L277.38,241.18 L277.85,241.18 L278.33,241.18 L278.81,241.18 L279.29,241.18 L279.76,241.18 L280.24,241.18 L280.72,241.18 L281.19,241.18 L281.67,241.17 L282.15,241.16 L282.63,241.13 L283.11,241.07 L283.58,240.92 L284.06,240.65 L284.54,240.21 L285.01,239.58 L285.49,238.82 L285.97,238.07 L286.45,237.50 L286.93,237.29" fill="none" stroke="#b71c47" stroke-width="0.95" stroke-linejoin="round"/>
<path d="M215.30,236.60 L215.78,236.60 L216.26,236.60 L216.73,236.60 L217.21,236.60 L217.69,236.60 L218.17,236.60 L218.64,236.60 L219.12,236.60 L219.60,236.60 L220.08,236.60 L220.55,236.60 L221.03,236.60 L221.51,236.60 L221.99,236.60 L222.46,236.60 L222.94,236.60 L223.42,236.60 L223.90,236.60 L224.37,236.60 L224.85,236.60 L225.33,236.60 L225.81,236.60 L226.28,236.60 L226.76,236.60 L227.24,236.60 L227.72,236.59 L228.19,236.59 L228.67,236.59 L229.15,236.58 L229.62,236.58 L230.10,236.57 L230.58,236.56 L231.06,236.54 L231.54,236.52 L232.01,236.49 L232.49,236.45 L232.97,236.39 L233.45,236.33 L233.92,236.24 L234.40,236.13 L234.88,235.99 L235.36,235.81 L235.83,235.60 L236.31,235.33 L236.79,235.01 L237.27,234.62 L237.74,234.17 L238.22,233.63 L238.70,233.00 L239.18,232.28 L239.65,231.46 L240.13,230.53 L240.61,229.50 L241.09,228.37 L241.56,227.13 L242.04,225.81 L242.52,224.40 L243.00,222.93 L243.47,221.40 L243.95,219.86 L244.43,218.31 L244.91,216.80 L245.38,215.34 L245.86,213.96 L246.34,212.71 L246.81,211.60 L247.29,210.66 L247.77,209.91 L248.25,209.38 L248.73,209.08 L249.20,209.01 L249.68,209.35 L250.16,210.14 L250.64,211.36 L251.11,212.93 L251.59,214.79 L252.07,216.85 L252.55,219.04 L253.02,221.26 L253.50,223.44 L253.98,225.53 L254.46,227.47 L254.93,229.25 L255.41,230.84 L255.89,232.24 L256.37,233.47 L256.84,234.55 L257.32,235.49 L257.80,236.32 L258.28,237.06 L258.75,237.73 L259.23,238.32 L259.71,238.86 L260.19,239.32 L260.66,239.72 L261.14,240.04 L261.62,240.31 L262.10,240.52 L262.57,240.69 L263.05,240.81 L263.53,240.91 L264.00,240.98 L264.48,241.03 L264.96,241.07 L265.44,241.10 L265.92,241.12 L266.39,241.14 L266.87,241.15 L267.35,241.15 L267.82,241.16 L268.30,241.17 L268.78,241.17 L269.26,241.17 L269.74,241.17 L270.21,241.17 L270.69,241.17 L271.17,241.18 L271.64,241.18 L272.12,241.18 L272.60,241.18 L273.08,241.18 L273.56,241.18 L274.03,241.18 L274.51,241.18 L274.99,241.18 L275.47,241.18 L275.94,241.18 L276.42,241.18 L276.90,241.18 L277.38,241.18 L277.85,241.18 L278.33,241.18 L278.81,241.18 L279.29,241.18 L279.76,241.18 L280.24,241.18 L280.72,241.18 L281.19,241.18 L281.67,241.17 L282.15,241.16 L282.63,241.13 L283.11,241.07 L283.58,240.92 L284.06,240.65 L284.54,240.21 L285.01,239.58 L285.49,238.82 L285.97,238.07 L286.45,237.50 L286.93,237.29" fill="none" stroke="#246b8a" stroke-width="0.95" stroke-linejoin="round"/>
<path d="M215.30,236.60 L215.78,236.60 L216.26,236.60 L216.73,236.60 L217.21,236.60 L217.69,236.60 L218.17,236.60 L218.64,236.60 L219.12,236.60 L219.60,236.60 L220.08,236.60 L220.55,236.60 L221.03,236.60 L221.51,236.60 L221.99,236.60 L222.46,236.60 L222.94,236.60 L223.42,236.60 L223.90,236.60 L224.37,236.60 L224.85,236.60 L225.33,236.60 L225.81,236.60 L226.28,236.60 L226.76,236.60 L227.24,236.60 L227.72,236.60 L228.19,236.60 L228.67,236.60 L229.15,236.60 L229.62,236.60 L230.10,236.60 L230.58,236.59 L231.06,236.59 L231.54,236.59 L232.01,236.58 L232.49,236.57 L232.97,236.56 L233.45,236.55 L233.92,236.53 L234.40,236.50 L234.88,236.47 L235.36,236.42 L235.83,236.36 L236.31,236.28 L236.79,236.18 L237.27,236.05 L237.74,235.89 L238.22,235.70 L238.70,235.45 L239.18,235.15 L239.65,234.79 L240.13,234.36 L240.61,233.85 L241.09,233.26 L241.56,232.57 L242.04,231.78 L242.52,230.88 L243.00,229.87 L243.47,228.76 L243.95,227.54 L244.43,226.21 L244.91,224.80 L245.38,223.30 L245.86,221.75 L246.34,220.15 L246.81,218.54 L247.29,216.94 L247.77,215.38 L248.25,213.90 L248.73,212.51 L249.20,211.27 L249.68,210.18 L250.16,209.28 L250.64,208.60 L251.11,208.14 L251.59,207.92 L252.07,208.01 L252.55,208.65 L253.02,209.83 L253.50,211.49 L253.98,213.52 L254.46,215.83 L254.93,218.30 L255.41,220.82 L255.89,223.29 L256.37,225.65 L256.84,227.82 L257.32,229.79 L257.80,231.53 L258.28,233.04 L258.75,234.36 L259.23,235.49 L259.71,236.47 L260.19,237.32 L260.66,238.05 L261.14,238.67 L261.62,239.20 L262.10,239.64 L262.57,240.00 L263.05,240.29 L263.53,240.51 L264.00,240.68 L264.48,240.81 L264.96,240.91 L265.44,240.98 L265.92,241.03 L266.39,241.07 L266.87,241.10 L267.35,241.12 L267.82,241.14 L268.30,241.15 L268.78,241.15 L269.26,241.16 L269.74,241.17 L270.21,241.17 L270.69,241.17 L271.17,241.17 L271.64,241.17 L272.12,241.17 L272.60,241.18 L273.08,241.18 L273.56,241.18 L274.03,241.18 L274.51,241.18 L274.99,241.18 L275.47,241.18 L275.94,241.18 L276.42,241.18 L276.90,241.18 L277.38,241.18 L277.85,241.18 L278.33,241.18 L278.81,241.18 L279.29,241.18 L279.76,241.18 L280.24,241.18 L280.72,241.18 L281.19,241.18 L281.67,241.17 L282.15,241.16 L282.63,241.13 L283.11,241.07 L283.58,240.92 L284.06,240.65 L284.54,240.21 L285.01,239.58 L285.49,238.82 L285.97,238.07 L286.45,237.50 L286.93,237.29" fill="none" stroke="#23233f" stroke-width="0.95" stroke-linejoin="round"/>
<path d="M215.30,236.60 L215.78,236.60 L216.26,236.60 L216.73,236.60 L217.21,236.60 L217.69,236.60 L218.17,236.60 L218.64,236.60 L219.12,236.60 L219.60,236.60 L220.08,236.60 L220.55,236.60 L221.03,236.60 L221.51,236.60 L221.99,236.60 L222.46,236.60 L222.94,236.60 L223.42,236.60 L223.90,236.60 L224.37,236.60 L224.85,236.60 L225.33,236.60 L225.81,236.60 L226.28,236.60 L226.76,236.60 L227.24,236.60 L227.72,236.60 L228.19,236.60 L228.67,236.60 L229.15,236.60 L229.62,236.60 L230.10,236.60 L230.58,236.60 L231.06,236.60 L231.54,236.60 L232.01,236.60 L232.49,236.60 L232.97,236.60 L233.45,236.60 L233.92,236.60 L234.40,236.60 L234.88,236.60 L235.36,236.60 L235.83,236.60 L236.31,236.60 L236.79,236.60 L237.27,236.60 L237.74,236.60 L238.22,236.60 L238.70,236.60 L239.18,236.60 L239.65,236.60 L240.13,236.60 L240.61,236.59 L241.09,236.59 L241.56,236.58 L242.04,236.56 L242.52,236.53 L243.00,236.50 L243.47,236.44 L243.95,236.36 L244.43,236.25 L244.91,236.11 L245.38,235.92 L245.86,235.69 L246.34,235.40 L246.81,235.07 L247.29,234.70 L247.77,234.29 L248.25,233.86 L248.73,233.42 L249.20,232.97 L249.68,232.52 L250.16,232.07 L250.64,231.60 L251.11,231.10 L251.59,230.53 L252.07,229.85 L252.55,229.04 L253.02,228.06 L253.50,226.89 L253.98,225.54 L254.46,224.02 L254.93,222.38 L255.41,220.69 L255.89,219.02 L256.37,217.49 L256.84,216.18 L257.32,215.19 L257.80,214.59 L258.28,214.45 L258.75,214.80 L259.23,215.68 L259.71,217.04 L260.19,218.79 L260.66,220.85 L261.14,223.09 L261.62,225.42 L262.10,227.73 L262.57,229.94 L263.05,231.99 L263.53,233.82 L264.00,235.42 L264.48,236.76 L264.96,237.86 L265.44,238.73 L265.92,239.41 L266.39,239.92 L266.87,240.29 L267.35,240.56 L267.82,240.75 L268.30,240.88 L268.78,240.97 L269.26,241.04 L269.74,241.08 L270.21,241.11 L270.69,241.13 L271.17,241.14 L271.64,241.15 L272.12,241.16 L272.60,241.16 L273.08,241.17 L273.56,241.17 L274.03,241.17 L274.51,241.17 L274.99,241.17 L275.47,241.18 L275.94,241.18 L276.42,241.18 L276.90,241.18 L277.38,241.18 L277.85,241.18 L278.33,241.18 L278.81,241.18 L279.29,241.18 L279.76,241.18 L280.24,241.18 L280.72,241.18 L281.19,241.18 L281.67,241.17 L282.15,241.16 L282.63,241.13 L283.11,241.07 L283.58,240.92 L284.06,240.65 L284.54,240.21 L285.01,239.58 L285.49,238.82 L285.97,238.07 L286.45,237.50 L286.93,237.29" fill="none" stroke="#c8102e" stroke-width="1.0" stroke-dasharray="2,1.6" stroke-linejoin="round"/>
<line x1="248.70" y1="204.40" x2="256.00" y2="204.40" stroke="#b0123a" stroke-width="1.0"/>
<path d="M245.70,204.40 L249.50,202.40 L249.00,204.40 L249.50,206.40 Z" fill="#b0123a"/>
<path d="M259.00,204.40 L255.20,202.40 L255.70,204.40 L255.20,206.40 Z" fill="#b0123a"/>
<line x1="216.20" y1="193.50" x2="216.20" y2="244.20" stroke="#2a2a2a" stroke-width="1.4"/>
<line x1="215.50" y1="243.30" x2="294.40" y2="243.30" stroke="#2a2a2a" stroke-width="1.8"/>
<line x1="213.20" y1="236.60" x2="216.20" y2="236.60" stroke="#2a2a2a" stroke-width="1.0"/>
<text x="209.20" y="239.20" font-size="8.0" text-anchor="end" fill="#333" color="#333">0</text>
<line x1="213.20" y1="222.73" x2="216.20" y2="222.73" stroke="#2a2a2a" stroke-width="1.0"/>
<text x="209.20" y="225.33" font-size="8.0" text-anchor="end" fill="#333" color="#333">1000</text>
<line x1="213.20" y1="208.86" x2="216.20" y2="208.86" stroke="#2a2a2a" stroke-width="1.0"/>
<text x="209.20" y="211.46" font-size="8.0" text-anchor="end" fill="#333" color="#333">2000</text>
<line x1="213.20" y1="194.99" x2="216.20" y2="194.99" stroke="#2a2a2a" stroke-width="1.0"/>
<text x="209.20" y="197.59" font-size="8.0" text-anchor="end" fill="#333" color="#333">3000</text>
<line x1="234.40" y1="243.30" x2="234.40" y2="245.90" stroke="#2a2a2a" stroke-width="1.0"/>
<line x1="253.50" y1="243.30" x2="253.50" y2="245.90" stroke="#2a2a2a" stroke-width="1.0"/>
<line x1="272.60" y1="243.30" x2="272.60" y2="245.90" stroke="#2a2a2a" stroke-width="1.0"/>
<line x1="291.70" y1="243.30" x2="291.70" y2="245.90" stroke="#2a2a2a" stroke-width="1.0"/>
<text x="234.40" y="256.30" font-size="8.2" text-anchor="middle" fill="#333" color="#333">40</text>
<text x="253.50" y="256.30" font-size="8.2" text-anchor="middle" fill="#333" color="#333">60</text>
<text x="272.60" y="256.30" font-size="8.2" text-anchor="middle" fill="#333" color="#333">80</text>
<text x="291.70" y="256.30" font-size="8.2" text-anchor="middle" fill="#333" color="#333">100</text>
<text x="235.80" y="177.90" font-size="8.4" fill="#333" color="#333" textLength="38.599999999999966" lengthAdjust="spacingAndGlyphs">SH2D LOF</text>
<text transform="translate(185.70,217.60) rotate(-90)" x="0" y="0" font-size="9.6" text-anchor="middle" fill="#333" color="#333" textLength="18.1" lengthAdjust="spacingAndGlyphs">dF/dT</text>
<text x="228.30" y="270.30" font-size="10.0" fill="#333" color="#333" textLength="54.0" lengthAdjust="spacingAndGlyphs">Temperature (c)</text>
<line x1="297.30" y1="179.00" x2="306.50" y2="179.00" stroke="#c8102e" stroke-width="1.1" stroke-dasharray="2,1.6"/>
<text x="310.00" y="181.60" font-size="7.3" fill="#333" color="#333">WT</text>
<line x1="297.30" y1="188.92" x2="306.50" y2="188.92" stroke="#246b8a" stroke-width="1.1"/>
<text x="310.00" y="191.52" font-size="7.3" fill="#333" color="#333" textLength="23.3" lengthAdjust="spacingAndGlyphs">T6222I</text>
<line x1="297.30" y1="198.84" x2="306.50" y2="198.84" stroke="#23233f" stroke-width="1.1"/>
<text x="310.00" y="201.44" font-size="7.3" fill="#333" color="#333">S636Y</text>
<line x1="297.30" y1="208.76" x2="306.50" y2="208.76" stroke="#8e4b9b" stroke-width="1.1"/>
<text x="310.00" y="211.36" font-size="7.3" fill="#333" color="#333" textLength="24.2" lengthAdjust="spacingAndGlyphs">V637M</text>
<line x1="297.30" y1="218.68" x2="306.50" y2="218.68" stroke="#f4c15a" stroke-width="1.1"/>
<text x="310.00" y="221.28" font-size="7.3" fill="#333" color="#333">N647D</text>
<line x1="297.30" y1="228.60" x2="306.50" y2="228.60" stroke="#b71c47" stroke-width="1.1"/>
<text x="310.00" y="231.20" font-size="7.3" fill="#333" color="#333">Y657S</text>
<line x1="297.30" y1="238.52" x2="306.50" y2="238.52" stroke="#3a9f58" stroke-width="1.1"/>
<text x="310.00" y="241.12" font-size="7.3" fill="#333" color="#333">S668Y</text>
<line x1="386.10" y1="234.60" x2="463.00" y2="234.60" stroke="#c9c3cf" stroke-width="0.9"/>
<path d="M385.60,234.60 L386.08,234.60 L386.56,234.60 L387.03,234.59 L387.51,234.59 L387.99,234.59 L388.47,234.59 L388.94,234.59 L389.42,234.59 L389.90,234.58 L390.38,234.58 L390.85,234.57 L391.33,234.57 L391.81,234.56 L392.29,234.56 L392.76,234.55 L393.24,234.54 L393.72,234.53 L394.20,234.52 L394.67,234.50 L395.15,234.49 L395.63,234.47 L396.11,234.45 L396.58,234.42 L397.06,234.39 L397.54,234.36 L398.02,234.33 L398.49,234.29 L398.97,234.25 L399.45,234.20 L399.93,234.14 L400.40,234.09 L400.88,234.02 L401.36,233.95 L401.84,233.87 L402.31,233.79 L402.79,233.70 L403.27,233.60 L403.75,233.49 L404.22,233.38 L404.70,233.26 L405.18,233.13 L405.66,232.99 L406.13,232.85 L406.61,232.70 L407.09,232.55 L407.56,232.39 L408.04,232.22 L408.52,232.05 L409.00,231.87 L409.48,231.69 L409.95,231.51 L410.43,231.32 L410.91,231.13 L411.39,230.93 L411.86,230.72 L412.34,230.49 L412.82,230.23 L413.30,229.92 L413.77,229.55 L414.25,229.09 L414.73,228.55 L415.21,227.89 L415.68,227.14 L416.16,226.30 L416.64,225.43 L417.12,224.57 L417.59,223.79 L418.07,223.17 L418.55,222.77 L419.03,222.63 L419.50,222.75 L419.98,223.08 L420.46,223.62 L420.94,224.32 L421.41,225.16 L421.89,226.08 L422.37,227.04 L422.85,227.99 L423.32,228.89 L423.80,229.72 L424.28,230.44 L424.75,231.06 L425.23,231.56 L425.71,231.96 L426.19,232.27 L426.67,232.52 L427.14,232.73 L427.62,232.92 L428.10,233.10 L428.58,233.28 L429.05,233.46 L429.53,233.64 L430.01,233.80 L430.49,233.94 L430.96,234.05 L431.44,234.12 L431.92,234.13 L432.40,234.09 L432.87,233.98 L433.35,233.81 L433.83,233.56 L434.31,233.24 L434.78,232.85 L435.26,232.39 L435.74,231.88 L436.22,231.34 L436.69,230.80 L437.17,230.28 L437.65,229.82 L438.12,229.46 L438.60,229.23 L439.08,229.16 L439.56,229.26 L440.04,229.55 L440.51,230.01 L440.99,230.64 L441.47,231.39 L441.95,232.24 L442.42,233.15 L442.90,234.08 L443.38,234.99 L443.86,235.86 L444.33,236.65 L444.81,237.36 L445.29,237.98 L445.77,238.51 L446.24,238.95 L446.72,239.32 L447.20,239.61 L447.68,239.85 L448.15,240.03 L448.63,240.18 L449.11,240.30 L449.59,240.39 L450.06,240.47 L450.54,240.52 L451.02,240.57 L451.50,240.61 L451.97,240.64 L452.45,240.66 L452.93,240.68 L453.41,240.70 L453.88,240.71 L454.36,240.73 L454.84,240.73 L455.32,240.74 L455.79,240.75 L456.27,240.75 L456.75,240.76 L457.23,240.76" fill="none" stroke="#c9cfc6" stroke-width="0.95" stroke-linejoin="round"/>
<path d="M385.60,234.60 L386.08,234.60 L386.56,234.60 L387.03,234.59 L387.51,234.59 L387.99,234.59 L388.47,234.59 L388.94,234.59 L389.42,234.59 L389.90,234.58 L390.38,234.58 L390.85,234.57 L391.33,234.57 L391.81,234.56 L392.29,234.56 L392.76,234.55 L393.24,234.54 L393.72,234.53 L394.20,234.51 L394.67,234.50 L395.15,234.48 L395.63,234.46 L396.11,234.44 L396.58,234.41 L397.06,234.38 L397.54,234.35 L398.02,234.31 L398.49,234.27 L398.97,234.23 L399.45,234.17 L399.93,234.12 L400.40,234.05 L400.88,233.98 L401.36,233.91 L401.84,233.82 L402.31,233.73 L402.79,233.64 L403.27,233.53 L403.75,233.41 L404.22,233.29 L404.70,233.16 L405.18,233.02 L405.66,232.87 L406.13,232.72 L406.61,232.56 L407.09,232.39 L407.56,232.21 L408.04,232.03 L408.52,231.84 L409.00,231.64 L409.48,231.45 L409.95,231.24 L410.43,231.04 L410.91,230.83 L411.39,230.61 L411.86,230.38 L412.34,230.13 L412.82,229.86 L413.30,229.53 L413.77,229.15 L414.25,228.69 L414.73,228.12 L415.21,227.44 L415.68,226.64 L416.16,225.75 L416.64,224.78 L417.12,223.81 L417.59,222.90 L418.07,222.13 L418.55,221.58 L419.03,221.31 L419.50,221.33 L419.98,221.64 L420.46,222.21 L420.94,223.00 L421.41,223.97 L421.89,225.05 L422.37,226.18 L422.85,227.31 L423.32,228.39 L423.80,229.36 L424.28,230.22 L424.75,230.93 L425.23,231.51 L425.71,231.96 L426.19,232.31 L426.67,232.58 L427.14,232.79 L427.62,232.98 L428.10,233.15 L428.58,233.32 L429.05,233.48 L429.53,233.64 L430.01,233.78 L430.49,233.89 L430.96,233.96 L431.44,233.98 L431.92,233.93 L432.40,233.81 L432.87,233.61 L433.35,233.31 L433.83,232.93 L434.31,232.46 L434.78,231.91 L435.26,231.30 L435.74,230.64 L436.22,229.98 L436.69,229.34 L437.17,228.76 L437.65,228.30 L438.12,227.98 L438.60,227.85 L439.08,227.92 L439.56,228.20 L440.04,228.68 L440.51,229.34 L440.99,230.16 L441.47,231.10 L441.95,232.10 L442.42,233.14 L442.90,234.15 L443.38,235.12 L443.86,236.02 L444.33,236.83 L444.81,237.53 L445.29,238.13 L445.77,238.64 L446.24,239.06 L446.72,239.40 L447.20,239.67 L447.68,239.89 L448.15,240.07 L448.63,240.20 L449.11,240.31 L449.59,240.40 L450.06,240.47 L450.54,240.53 L451.02,240.57 L451.50,240.61 L451.97,240.64 L452.45,240.66 L452.93,240.68 L453.41,240.70 L453.88,240.70 L454.36,240.68 L454.84,240.61 L455.32,240.41 L455.79,240.03 L456.27,239.43 L456.75,238.71 L457.23,238.11" fill="none" stroke="#8fc986" stroke-width="0.95" stroke-linejoin="round"/>
<path d="M385.60,234.59 L386.08,234.59 L386.56,234.58 L387.03,234.58 L387.51,234.58 L387.99,234.57 L388.47,234.57 L388.94,234.56 L389.42,234.56 L389.90,234.55 L390.38,234.54 L390.85,234.53 L391.33,234.52 L391.81,234.51 L392.29,234.50 L392.76,234.48 L393.24,234.47 L393.72,234.45 L394.20,234.43 L394.67,234.41 L395.15,234.38 L395.63,234.35 L396.11,234.32 L396.58,234.29 L397.06,234.25 L397.54,234.21 L398.02,234.16 L398.49,234.11 L398.97,234.06 L399.45,234.00 L399.93,233.94 L400.40,233.87 L400.88,233.79 L401.36,233.71 L401.84,233.62 L402.31,233.53 L402.79,233.43 L403.27,233.32 L403.75,233.21 L404.22,233.09 L404.70,232.96 L405.18,232.83 L405.66,232.68 L406.13,232.54 L406.61,232.38 L407.09,232.22 L407.56,232.05 L408.04,231.87 L408.52,231.69 L409.00,231.50 L409.48,231.30 L409.95,231.10 L410.43,230.89 L410.91,230.67 L411.39,230.44 L411.86,230.20 L412.34,229.94 L412.82,229.67 L413.30,229.36 L413.77,229.01 L414.25,228.62 L414.73,228.15 L415.21,227.61 L415.68,226.98 L416.16,226.22 L416.64,225.34 L417.12,224.32 L417.59,223.15 L418.07,221.84 L418.55,220.41 L419.03,218.86 L419.50,217.25 L419.98,215.61 L420.46,214.02 L420.94,212.53 L421.41,211.21 L421.89,210.12 L422.37,209.33 L422.85,208.87 L423.32,208.78 L423.80,209.45 L424.28,211.01 L424.75,213.30 L425.23,216.09 L425.71,219.17 L426.19,222.31 L426.67,225.33 L427.14,228.13 L427.62,230.65 L428.10,232.86 L428.58,234.76 L429.05,236.31 L429.53,237.52 L430.01,238.40 L430.49,239.00 L430.96,239.39 L431.44,239.63 L431.92,239.76 L432.40,239.83 L432.87,239.84 L433.35,239.81 L433.83,239.73 L434.31,239.59 L434.78,239.39 L435.26,239.12 L435.74,238.77 L436.22,238.34 L436.69,237.84 L437.17,237.31 L437.65,236.78 L438.12,236.30 L438.60,235.91 L439.08,235.65 L439.56,235.57 L440.04,235.66 L440.51,235.92 L440.99,236.31 L441.47,236.81 L441.95,237.36 L442.42,237.91 L442.90,238.44 L443.38,238.92 L443.86,239.33 L444.33,239.69 L444.81,239.99 L445.29,240.26 L445.77,240.49 L446.24,240.70 L446.72,240.89 L447.20,241.07 L447.68,241.23 L448.15,241.36 L448.63,241.46 L449.11,241.53 L449.59,241.55 L450.06,241.53 L450.54,241.46 L451.02,241.37 L451.50,241.24 L451.97,241.09 L452.45,240.92 L452.93,240.74 L453.41,240.51 L453.88,240.21 L454.36,239.79 L454.84,239.18 L455.32,238.39 L455.79,237.46 L456.27,236.55 L456.75,235.87 L457.23,235.61" fill="none" stroke="#55405e" stroke-width="0.95" stroke-linejoin="round"/>
<path d="M385.60,234.60 L386.08,234.60 L386.56,234.60 L387.03,234.60 L387.51,234.60 L387.99,234.60 L388.47,234.60 L388.94,234.60 L389.42,234.60 L389.90,234.60 L390.38,234.60 L390.85,234.60 L391.33,234.60 L391.81,234.60 L392.29,234.60 L392.76,234.60 L393.24,234.60 L393.72,234.60 L394.20,234.60 L394.67,234.60 L395.15,234.60 L395.63,234.60 L396.11,234.60 L396.58,234.60 L397.06,234.60 L397.54,234.60 L398.02,234.60 L398.49,234.60 L398.97,234.60 L399.45,234.60 L399.93,234.60 L400.40,234.60 L400.88,234.60 L401.36,234.60 L401.84,234.60 L402.31,234.60 L402.79,234.60 L403.27,234.60 L403.75,234.60 L404.22,234.60 L404.70,234.60 L405.18,234.60 L405.66,234.60 L406.13,234.60 L406.61,234.60 L407.09,234.60 L407.56,234.60 L408.04,234.60 L408.52,234.60 L409.00,234.60 L409.48,234.60 L409.95,234.60 L410.43,234.60 L410.91,234.60 L411.39,234.60 L411.86,234.60 L412.34,234.60 L412.82,234.60 L413.30,234.59 L413.77,234.59 L414.25,234.59 L414.73,234.58 L415.21,234.57 L415.68,234.55 L416.16,234.52 L416.64,234.48 L417.12,234.43 L417.59,234.35 L418.07,234.24 L418.55,234.09 L419.03,233.88 L419.50,233.61 L419.98,233.26 L420.46,232.81 L420.94,232.24 L421.41,231.53 L421.89,230.67 L422.37,229.63 L422.85,228.41 L423.32,227.00 L423.80,225.39 L424.28,223.61 L424.75,221.66 L425.23,219.59 L425.71,217.42 L426.19,215.23 L426.67,213.05 L427.14,210.97 L427.62,209.06 L428.10,207.38 L428.58,206.00 L429.05,204.97 L429.53,204.34 L430.01,204.14 L430.49,204.82 L430.96,206.74 L431.44,209.67 L431.92,213.31 L432.40,217.28 L432.87,221.28 L433.35,225.06 L433.83,228.45 L434.31,231.38 L434.78,233.82 L435.26,235.76 L435.74,237.21 L436.22,238.24 L436.69,238.93 L437.17,239.36 L437.65,239.63 L438.12,239.79 L438.60,239.88 L439.08,239.93 L439.56,239.97 L440.04,239.99 L440.51,240.00 L440.99,240.01 L441.47,240.02 L441.95,240.04 L442.42,240.06 L442.90,240.09 L443.38,240.12 L443.86,240.17 L444.33,240.24 L444.81,240.32 L445.29,240.42 L445.77,240.54 L446.24,240.68 L446.72,240.84 L447.20,241.02 L447.68,241.21 L448.15,241.41 L448.63,241.61 L449.11,241.80 L449.59,241.97 L450.06,242.12 L450.54,242.23 L451.02,242.30 L451.50,242.32 L451.97,242.30 L452.45,242.23 L452.93,242.12 L453.41,241.97 L453.88,241.80 L454.36,241.60 L454.84,241.38 L455.32,241.11 L455.79,240.75 L456.27,240.26 L456.75,239.62 L457.23,238.90" fill="none" stroke="#d4245a" stroke-width="1.0" stroke-dasharray="2,1.6" stroke-linejoin="round"/>
<line x1="418.50" y1="206.40" x2="425.40" y2="206.40" stroke="#b0123a" stroke-width="1.0"/>
<path d="M415.50,206.40 L419.30,204.40 L418.80,206.40 L419.30,208.40 Z" fill="#b0123a"/>
<path d="M428.40,206.40 L424.60,204.40 L425.10,206.40 L424.60,208.40 Z" fill="#b0123a"/>
<line x1="386.10" y1="194.50" x2="386.10" y2="244.10" stroke="#2a2a2a" stroke-width="1.4"/>
<line x1="385.40" y1="243.20" x2="464.40" y2="243.20" stroke="#2a2a2a" stroke-width="1.8"/>
<line x1="383.10" y1="234.60" x2="386.10" y2="234.60" stroke="#2a2a2a" stroke-width="1.0"/>
<text x="379.20" y="237.20" font-size="8.0" text-anchor="end" fill="#333" color="#333">0</text>
<line x1="383.10" y1="215.30" x2="386.10" y2="215.30" stroke="#2a2a2a" stroke-width="1.0"/>
<text x="379.20" y="217.90" font-size="8.0" text-anchor="end" fill="#333" color="#333">1000</text>
<line x1="383.10" y1="196.00" x2="386.10" y2="196.00" stroke="#2a2a2a" stroke-width="1.0"/>
<text x="379.20" y="198.60" font-size="8.0" text-anchor="end" fill="#333" color="#333">2000</text>
<line x1="404.70" y1="243.20" x2="404.70" y2="245.80" stroke="#2a2a2a" stroke-width="1.0"/>
<line x1="423.80" y1="243.20" x2="423.80" y2="245.80" stroke="#2a2a2a" stroke-width="1.0"/>
<line x1="442.90" y1="243.20" x2="442.90" y2="245.80" stroke="#2a2a2a" stroke-width="1.0"/>
<line x1="462.00" y1="243.20" x2="462.00" y2="245.80" stroke="#2a2a2a" stroke-width="1.0"/>
<text x="404.70" y="256.30" font-size="8.2" text-anchor="middle" fill="#333" color="#333">40</text>
<text x="423.80" y="256.30" font-size="8.2" text-anchor="middle" fill="#333" color="#333">60</text>
<text x="442.90" y="256.30" font-size="8.2" text-anchor="middle" fill="#333" color="#333">80</text>
<text x="462.00" y="256.30" font-size="8.2" text-anchor="middle" fill="#333" color="#333">100</text>
<text x="404.80" y="177.90" font-size="8.4" fill="#333" color="#333" textLength="40.89999999999998" lengthAdjust="spacingAndGlyphs">SH2D GOF</text>
<text transform="translate(355.70,218.20) rotate(-90)" x="0" y="0" font-size="9.6" text-anchor="middle" fill="#333" color="#333" textLength="19.1" lengthAdjust="spacingAndGlyphs">dF/dT</text>
<text x="398.70" y="270.30" font-size="10.0" fill="#333" color="#333" textLength="53.60000000000002" lengthAdjust="spacingAndGlyphs">Temperature (c)</text>
<line x1="464.20" y1="206.30" x2="474.00" y2="206.30" stroke="#d4245a" stroke-width="1.1" stroke-dasharray="2,1.6"/>
<text x="477.50" y="208.90" font-size="7.3" fill="#333" color="#333">WT</text>
<line x1="464.20" y1="216.10" x2="474.00" y2="216.10" stroke="#c9cfc6" stroke-width="1.1"/>
<text x="477.50" y="218.70" font-size="7.3" fill="#333" color="#333">Y640F</text>
<line x1="464.20" y1="225.90" x2="474.00" y2="225.90" stroke="#55405e" stroke-width="1.1"/>
<text x="477.50" y="228.50" font-size="7.3" fill="#333" color="#333">K658Y</text>
<line x1="464.20" y1="235.70" x2="474.00" y2="235.70" stroke="#8fc986" stroke-width="1.1"/>
<text x="477.50" y="238.30" font-size="7.3" fill="#333" color="#333">D661Y</text>
<rect x="24.50" y="298.80" width="267.10" height="17.60" fill="#1d4b8f"/>
<text x="28.10" y="309.60" font-size="5.6" fill="#d2def0" color="#d2def0" style="stroke:none">Protein</text>
<text x="61.90" y="306.30" font-size="5.6" fill="#d2def0" color="#d2def0" style="stroke:none">Monomer</text>
<text x="61.90" y="313.3" font-size="5.6" fill="#d2def0" color="#d2def0" style="stroke:none">T<tspan font-size="3.8" dy="1">m</tspan><tspan dy="-1"> (&#176;C)</tspan></text>
<text x="100.00" y="306.30" font-size="5.6" fill="#d2def0" color="#d2def0" style="stroke:none">Monomer</text>
<text x="100.00" y="313.3" font-size="5.6" fill="#d2def0" color="#d2def0" style="stroke:none">&#916;T<tspan font-size="3.8" dy="1">m</tspan><tspan dy="-1"> (&#176;C)</tspan></text>
<text x="141.50" y="306.30" font-size="5.6" fill="#d2def0" color="#d2def0" style="stroke:none">Dimer</text>
<text x="141.50" y="313.3" font-size="5.6" fill="#d2def0" color="#d2def0" style="stroke:none">T<tspan font-size="3.8" dy="1">m</tspan><tspan dy="-1">1(&#176;C)</tspan></text>
<text x="180.80" y="306.30" font-size="5.6" fill="#d2def0" color="#d2def0" style="stroke:none">Dimer</text>
<text x="180.80" y="313.3" font-size="5.6" fill="#d2def0" color="#d2def0" style="stroke:none">&#916;T<tspan font-size="3.8" dy="1">m</tspan><tspan dy="-1">1(&#176;C)</tspan></text>
<text x="219.60" y="306.30" font-size="5.6" fill="#d2def0" color="#d2def0" style="stroke:none">Dimer</text>
<text x="219.60" y="313.3" font-size="5.6" fill="#d2def0" color="#d2def0" style="stroke:none">T<tspan font-size="3.8" dy="1">m</tspan><tspan dy="-1">2(&#176;C)</tspan></text>
<text x="253.80" y="306.30" font-size="5.6" fill="#d2def0" color="#d2def0" style="stroke:none">Dimer</text>
<text x="253.80" y="313.3" font-size="5.6" fill="#d2def0" color="#d2def0" style="stroke:none">&#916;T<tspan font-size="3.8" dy="1">m</tspan><tspan dy="-1">2(&#176;C)</tspan></text>
<line x1="58.50" y1="298.80" x2="58.50" y2="316.40" stroke="#2c5a9c" stroke-width="0.6"/>
<line x1="96.60" y1="298.80" x2="96.60" y2="316.40" stroke="#2c5a9c" stroke-width="0.6"/>
<line x1="138.10" y1="298.80" x2="138.10" y2="316.40" stroke="#2c5a9c" stroke-width="0.6"/>
<line x1="177.40" y1="298.80" x2="177.40" y2="316.40" stroke="#2c5a9c" stroke-width="0.6"/>
<line x1="216.20" y1="298.80" x2="216.20" y2="316.40" stroke="#2c5a9c" stroke-width="0.6"/>
<line x1="250.40" y1="298.80" x2="250.40" y2="316.40" stroke="#2c5a9c" stroke-width="0.6"/>
<text x="27.90" y="322.65" font-size="5.6" fill="#222" color="#222" style="stroke-width:0.12px">WT</text>
<text x="77.55" y="322.65" font-size="5.6" text-anchor="middle" fill="#333" color="#333" style="stroke-width:0.12px">55.0</text>
<text x="117.35" y="322.65" font-size="5.6" text-anchor="middle" fill="#333" color="#333" style="stroke-width:0.12px">0.0</text>
<text x="157.75" y="322.65" font-size="5.6" text-anchor="middle" fill="#333" color="#333" style="stroke-width:0.12px">66.0</text>
<text x="196.80" y="322.65" font-size="5.6" text-anchor="middle" fill="#333" color="#333" style="stroke-width:0.12px">0.0</text>
<text x="233.30" y="322.65" font-size="5.6" text-anchor="middle" fill="#333" color="#333" style="stroke-width:0.12px">&#8211;</text>
<text x="271.00" y="322.65" font-size="5.6" text-anchor="middle" fill="#333" color="#333" style="stroke-width:0.12px">&#8211;</text>
<text x="27.90" y="331.16" font-size="5.6" fill="#5b5fa8" color="#5b5fa8" style="stroke-width:0.12px">R382W</text>
<text x="77.55" y="331.16" font-size="5.6" text-anchor="middle" fill="#333" color="#333" style="stroke-width:0.12px">54.7</text>
<text x="117.35" y="331.16" font-size="5.6" text-anchor="middle" fill="#333" color="#333" style="stroke-width:0.12px">-0.3</text>
<text x="157.75" y="331.16" font-size="5.6" text-anchor="middle" fill="#333" color="#333" style="stroke-width:0.12px">66.0</text>
<text x="196.80" y="331.16" font-size="5.6" text-anchor="middle" fill="#333" color="#333" style="stroke-width:0.12px">0.0</text>
<text x="233.30" y="331.16" font-size="5.6" text-anchor="middle" fill="#333" color="#333" style="stroke-width:0.12px">&#8211;</text>
<text x="271.00" y="331.16" font-size="5.6" text-anchor="middle" fill="#333" color="#333" style="stroke-width:0.12px">&#8211;</text>
<text x="27.90" y="339.67" font-size="5.6" fill="#c0648a" color="#c0648a" style="stroke-width:0.12px">R423Q</text>
<text x="77.55" y="339.67" font-size="5.6" text-anchor="middle" fill="#333" color="#333" style="stroke-width:0.12px">55.0</text>
<text x="117.35" y="339.67" font-size="5.6" text-anchor="middle" fill="#333" color="#333" style="stroke-width:0.12px">0.0</text>
<text x="157.75" y="339.67" font-size="5.6" text-anchor="middle" fill="#333" color="#333" style="stroke-width:0.12px">66.0</text>
<text x="196.80" y="339.67" font-size="5.6" text-anchor="middle" fill="#333" color="#333" style="stroke-width:0.12px">0.0</text>
<text x="233.30" y="339.67" font-size="5.6" text-anchor="middle" fill="#333" color="#333" style="stroke-width:0.12px">&#8211;</text>
<text x="271.00" y="339.67" font-size="5.6" text-anchor="middle" fill="#333" color="#333" style="stroke-width:0.12px">&#8211;</text>
<text x="27.90" y="348.18" font-size="5.6" fill="#6e3d3d" color="#6e3d3d" style="stroke-width:0.12px">V463del</text>
<text x="77.55" y="348.18" font-size="5.6" text-anchor="middle" fill="#333" color="#333" style="stroke-width:0.12px">53.0</text>
<text x="117.35" y="348.18" font-size="5.6" text-anchor="middle" fill="#333" color="#333" style="stroke-width:0.12px">-2.0</text>
<text x="157.75" y="348.18" font-size="5.6" text-anchor="middle" fill="#333" color="#333" style="stroke-width:0.12px">64.0</text>
<text x="196.80" y="348.18" font-size="5.6" text-anchor="middle" fill="#333" color="#333" style="stroke-width:0.12px">-2.0</text>
<text x="233.30" y="348.18" font-size="5.6" text-anchor="middle" fill="#333" color="#333" style="stroke-width:0.12px">&#8211;</text>
<text x="271.00" y="348.18" font-size="5.6" text-anchor="middle" fill="#333" color="#333" style="stroke-width:0.12px">&#8211;</text>
<text x="27.90" y="356.69" font-size="5.6" fill="#b5bd6e" color="#b5bd6e" style="stroke-width:0.12px">Q344H</text>
<text x="77.55" y="356.69" font-size="5.6" text-anchor="middle" fill="#333" color="#333" style="stroke-width:0.12px">56.0</text>
<text x="117.35" y="356.69" font-size="5.6" text-anchor="middle" fill="#333" color="#333" style="stroke-width:0.12px">1.0</text>
<text x="157.75" y="356.69" font-size="5.6" text-anchor="middle" fill="#333" color="#333" style="stroke-width:0.12px">66.0</text>
<text x="196.80" y="356.69" font-size="5.6" text-anchor="middle" fill="#333" color="#333" style="stroke-width:0.12px">0.0</text>
<text x="233.30" y="356.69" font-size="5.6" text-anchor="middle" fill="#333" color="#333" style="stroke-width:0.12px">&#8211;</text>
<text x="271.00" y="356.69" font-size="5.6" text-anchor="middle" fill="#333" color="#333" style="stroke-width:0.12px">&#8211;</text>
<text x="27.90" y="365.20" font-size="5.6" fill="#5b5fa8" color="#5b5fa8" style="stroke-width:0.12px">S636Y</text>
<text x="77.55" y="365.20" font-size="5.6" text-anchor="middle" fill="#333" color="#333" style="stroke-width:0.12px">52.0</text>
<text x="117.35" y="365.20" font-size="5.6" text-anchor="middle" fill="#333" color="#333" style="stroke-width:0.12px">-3.0</text>
<text x="157.75" y="365.20" font-size="5.6" text-anchor="middle" fill="#333" color="#333" style="stroke-width:0.12px">58.0</text>
<text x="196.80" y="365.20" font-size="5.6" text-anchor="middle" fill="#333" color="#333" style="stroke-width:0.12px">-8.0</text>
<text x="233.30" y="365.20" font-size="5.6" text-anchor="middle" fill="#333" color="#333" style="stroke-width:0.12px">&#8211;</text>
<text x="271.00" y="365.20" font-size="5.6" text-anchor="middle" fill="#333" color="#333" style="stroke-width:0.12px">&#8211;</text>
<text x="27.90" y="373.71" font-size="5.6" fill="#5b5fa8" color="#5b5fa8" style="stroke-width:0.12px">S668Y</text>
<text x="77.55" y="373.71" font-size="5.6" text-anchor="middle" fill="#333" color="#333" style="stroke-width:0.12px">49.0</text>
<text x="117.35" y="373.71" font-size="5.6" text-anchor="middle" fill="#333" color="#333" style="stroke-width:0.12px">-6.0</text>
<text x="157.75" y="373.71" font-size="5.6" text-anchor="middle" fill="#333" color="#333" style="stroke-width:0.12px">55.0</text>
<text x="196.80" y="373.71" font-size="5.6" text-anchor="middle" fill="#333" color="#333" style="stroke-width:0.12px">-11.0</text>
<text x="233.30" y="373.71" font-size="5.6" text-anchor="middle" fill="#333" color="#333" style="stroke-width:0.12px">&#8211;</text>
<text x="271.00" y="373.71" font-size="5.6" text-anchor="middle" fill="#333" color="#333" style="stroke-width:0.12px">&#8211;</text>
<text x="27.90" y="382.22" font-size="5.6" fill="#4a2a2a" color="#4a2a2a" style="stroke-width:0.12px">T622I</text>
<text x="77.55" y="382.22" font-size="5.6" text-anchor="middle" fill="#333" color="#333" style="stroke-width:0.12px">50.0</text>
<text x="117.35" y="382.22" font-size="5.6" text-anchor="middle" fill="#333" color="#333" style="stroke-width:0.12px">-5.0</text>
<text x="157.75" y="382.22" font-size="5.6" text-anchor="middle" fill="#333" color="#333" style="stroke-width:0.12px">56.0</text>
<text x="196.80" y="382.22" font-size="5.6" text-anchor="middle" fill="#333" color="#333" style="stroke-width:0.12px">-10.0</text>
<text x="233.30" y="382.22" font-size="5.6" text-anchor="middle" fill="#333" color="#333" style="stroke-width:0.12px">&#8211;</text>
<text x="271.00" y="382.22" font-size="5.6" text-anchor="middle" fill="#333" color="#333" style="stroke-width:0.12px">&#8211;</text>
<text x="27.90" y="390.73" font-size="5.6" fill="#6a3448" color="#6a3448" style="stroke-width:0.12px">Y657S</text>
<text x="77.55" y="390.73" font-size="5.6" text-anchor="middle" fill="#333" color="#333" style="stroke-width:0.12px">47.0</text>
<text x="117.35" y="390.73" font-size="5.6" text-anchor="middle" fill="#333" color="#333" style="stroke-width:0.12px">-8.0</text>
<text x="157.75" y="390.73" font-size="5.6" text-anchor="middle" fill="#333" color="#333" style="stroke-width:0.12px">51.0</text>
<text x="196.80" y="390.73" font-size="5.6" text-anchor="middle" fill="#333" color="#333" style="stroke-width:0.12px">-15.0</text>
<text x="233.30" y="390.73" font-size="5.6" text-anchor="middle" fill="#333" color="#333" style="stroke-width:0.12px">&#8211;</text>
<text x="271.00" y="390.73" font-size="5.6" text-anchor="middle" fill="#333" color="#333" style="stroke-width:0.12px">&#8211;</text>
<text x="27.90" y="399.25" font-size="5.6" fill="#9a56a0" color="#9a56a0" style="stroke-width:0.12px">V637M</text>
<text x="77.55" y="399.25" font-size="5.6" text-anchor="middle" fill="#333" color="#333" style="stroke-width:0.12px">53.0</text>
<text x="117.35" y="399.25" font-size="5.6" text-anchor="middle" fill="#333" color="#333" style="stroke-width:0.12px">-2.0</text>
<text x="157.75" y="399.25" font-size="5.6" text-anchor="middle" fill="#333" color="#333" style="stroke-width:0.12px">55.0</text>
<text x="196.80" y="399.25" font-size="5.6" text-anchor="middle" fill="#333" color="#333" style="stroke-width:0.12px">-11.0</text>
<text x="233.30" y="399.25" font-size="5.6" text-anchor="middle" fill="#333" color="#333" style="stroke-width:0.12px">&#8211;</text>
<text x="271.00" y="399.25" font-size="5.6" text-anchor="middle" fill="#333" color="#333" style="stroke-width:0.12px">&#8211;</text>
<text x="27.90" y="407.75" font-size="5.6" fill="#8a48a8" color="#8a48a8" style="stroke-width:0.12px">N647D</text>
<text x="77.55" y="407.75" font-size="5.6" text-anchor="middle" fill="#333" color="#333" style="stroke-width:0.12px">55.0</text>
<text x="117.35" y="407.75" font-size="5.6" text-anchor="middle" fill="#333" color="#333" style="stroke-width:0.12px">0.0</text>
<text x="157.75" y="407.75" font-size="5.6" text-anchor="middle" fill="#333" color="#333" style="stroke-width:0.12px">63.0</text>
<text x="196.80" y="407.75" font-size="5.6" text-anchor="middle" fill="#333" color="#333" style="stroke-width:0.12px">-3.0</text>
<text x="233.30" y="407.75" font-size="5.6" text-anchor="middle" fill="#333" color="#333" style="stroke-width:0.12px">&#8211;</text>
<text x="271.00" y="407.75" font-size="5.6" text-anchor="middle" fill="#333" color="#333" style="stroke-width:0.12px">&#8211;</text>
<text x="27.90" y="416.26" font-size="5.6" fill="#bfc05a" color="#bfc05a" style="stroke-width:0.12px">Y640F</text>
<text x="77.55" y="416.26" font-size="5.6" text-anchor="middle" fill="#333" color="#333" style="stroke-width:0.12px">55.0</text>
<text x="117.35" y="416.26" font-size="5.6" text-anchor="middle" fill="#333" color="#333" style="stroke-width:0.12px">0.0</text>
<text x="157.75" y="416.26" font-size="5.6" text-anchor="middle" fill="#333" color="#333" style="stroke-width:0.12px">59.0</text>
<text x="196.80" y="416.26" font-size="5.6" text-anchor="middle" fill="#333" color="#333" style="stroke-width:0.12px">-7.0</text>
<text x="233.30" y="416.26" font-size="5.6" text-anchor="middle" fill="#333" color="#333" style="stroke-width:0.12px">78.0</text>
<text x="271.00" y="416.26" font-size="5.6" text-anchor="middle" fill="#333" color="#333" style="stroke-width:0.12px">12.0</text>
<text x="27.90" y="424.77" font-size="5.6" fill="#b2b283" color="#b2b283" style="stroke-width:0.12px">K658Y</text>
<text x="77.55" y="424.77" font-size="5.6" text-anchor="middle" fill="#333" color="#333" style="stroke-width:0.12px">52.0</text>
<text x="117.35" y="424.77" font-size="5.6" text-anchor="middle" fill="#333" color="#333" style="stroke-width:0.12px">-3.0</text>
<text x="157.75" y="424.77" font-size="5.6" text-anchor="middle" fill="#333" color="#333" style="stroke-width:0.12px">59.7</text>
<text x="196.80" y="424.77" font-size="5.6" text-anchor="middle" fill="#333" color="#333" style="stroke-width:0.12px">-6.3</text>
<text x="233.30" y="424.77" font-size="5.6" text-anchor="middle" fill="#333" color="#333" style="stroke-width:0.12px">78.0</text>
<text x="271.00" y="424.77" font-size="5.6" text-anchor="middle" fill="#333" color="#333" style="stroke-width:0.12px">12.0</text>
<text x="27.90" y="433.28" font-size="5.6" fill="#c4c49a" color="#c4c49a" style="stroke-width:0.12px">D661Y</text>
<text x="77.55" y="433.28" font-size="5.6" text-anchor="middle" fill="#333" color="#333" style="stroke-width:0.12px">52.0</text>
<text x="117.35" y="433.28" font-size="5.6" text-anchor="middle" fill="#333" color="#333" style="stroke-width:0.12px">-3.0</text>
<text x="157.75" y="433.28" font-size="5.6" text-anchor="middle" fill="#333" color="#333" style="stroke-width:0.12px">55.3</text>
<text x="196.80" y="433.28" font-size="5.6" text-anchor="middle" fill="#333" color="#333" style="stroke-width:0.12px">-10.7</text>
<text x="233.30" y="433.28" font-size="5.6" text-anchor="middle" fill="#333" color="#333" style="stroke-width:0.12px">76.0</text>
<text x="271.00" y="433.28" font-size="5.6" text-anchor="middle" fill="#333" color="#333" style="stroke-width:0.12px">10.0</text>
<line x1="9.20" y1="324.91" x2="291.60" y2="324.91" stroke="#555" stroke-width="0.9"/>
<line x1="24.50" y1="333.42" x2="291.60" y2="333.42" stroke="#555" stroke-width="0.9"/>
<line x1="24.50" y1="341.93" x2="291.60" y2="341.93" stroke="#555" stroke-width="0.9"/>
<line x1="24.50" y1="350.44" x2="291.60" y2="350.44" stroke="#555" stroke-width="0.9"/>
<line x1="9.20" y1="358.95" x2="291.60" y2="358.95" stroke="#555" stroke-width="0.9"/>
<line x1="24.50" y1="367.46" x2="291.60" y2="367.46" stroke="#555" stroke-width="0.9"/>
<line x1="24.50" y1="375.97" x2="291.60" y2="375.97" stroke="#555" stroke-width="0.9"/>
<line x1="24.50" y1="384.48" x2="291.60" y2="384.48" stroke="#555" stroke-width="0.9"/>
<line x1="24.50" y1="392.99" x2="291.60" y2="392.99" stroke="#555" stroke-width="0.9"/>
<line x1="24.50" y1="401.50" x2="291.60" y2="401.50" stroke="#555" stroke-width="0.9"/>
<line x1="24.50" y1="410.01" x2="291.60" y2="410.01" stroke="#555" stroke-width="0.9"/>
<line x1="24.50" y1="418.52" x2="291.60" y2="418.52" stroke="#555" stroke-width="0.9"/>
<line x1="24.50" y1="427.03" x2="291.60" y2="427.03" stroke="#555" stroke-width="0.9"/>
<line x1="9.20" y1="435.54" x2="291.60" y2="435.54" stroke="#444" stroke-width="1.0"/>
<line x1="24.50" y1="316.40" x2="24.50" y2="435.54" stroke="#333" stroke-width="0.9"/>
<line x1="58.50" y1="316.40" x2="58.50" y2="435.54" stroke="#333" stroke-width="0.9"/>
<line x1="96.60" y1="316.40" x2="96.60" y2="435.54" stroke="#333" stroke-width="0.9"/>
<line x1="138.10" y1="316.40" x2="138.10" y2="435.54" stroke="#333" stroke-width="0.9"/>
<line x1="177.40" y1="316.40" x2="177.40" y2="435.54" stroke="#333" stroke-width="0.9"/>
<line x1="216.20" y1="316.40" x2="216.20" y2="435.54" stroke="#333" stroke-width="0.9"/>
<line x1="250.40" y1="316.40" x2="250.40" y2="435.54" stroke="#333" stroke-width="0.9"/>
<line x1="291.60" y1="316.40" x2="291.60" y2="435.54" stroke="#333" stroke-width="0.9"/>
<line x1="9.20" y1="324.91" x2="9.20" y2="435.54" stroke="#444" stroke-width="0.9"/>
<text transform="translate(18.60,341.93) rotate(-90)" x="0" y="0" font-size="5.6" text-anchor="middle" fill="#333" color="#333">DBD</text>
<text transform="translate(18.60,397.25) rotate(-90)" x="0" y="0" font-size="5.6" text-anchor="middle" fill="#333" color="#333">SH2D</text>
<circle cx="348.30" cy="361.86" r="2.1" fill="#1a3f72"/>
<rect x="346.15" y="333.73" width="4.30" height="4.30" fill="#b30f2c"/>
<circle cx="360.82" cy="362.57" r="2.1" fill="#1a3f72"/>
<rect x="358.67" y="333.73" width="4.30" height="4.30" fill="#b30f2c"/>
<circle cx="373.34" cy="361.86" r="2.1" fill="#1a3f72"/>
<rect x="371.19" y="333.73" width="4.30" height="4.30" fill="#b30f2c"/>
<circle cx="385.86" cy="366.59" r="2.1" fill="#1a3f72"/>
<rect x="383.71" y="338.45" width="4.30" height="4.30" fill="#b30f2c"/>
<circle cx="398.38" cy="359.50" r="2.1" fill="#1a3f72"/>
<rect x="396.23" y="333.73" width="4.30" height="4.30" fill="#b30f2c"/>
<circle cx="410.90" cy="368.95" r="2.1" fill="#1a3f72"/>
<rect x="408.75" y="352.62" width="4.30" height="4.30" fill="#b30f2c"/>
<circle cx="423.42" cy="376.04" r="2.1" fill="#1a3f72"/>
<rect x="421.27" y="359.71" width="4.30" height="4.30" fill="#b30f2c"/>
<circle cx="435.94" cy="373.68" r="2.1" fill="#1a3f72"/>
<rect x="433.79" y="357.35" width="4.30" height="4.30" fill="#b30f2c"/>
<circle cx="448.46" cy="380.76" r="2.1" fill="#1a3f72"/>
<rect x="446.31" y="369.16" width="4.30" height="4.30" fill="#b30f2c"/>
<circle cx="460.98" cy="366.59" r="2.1" fill="#1a3f72"/>
<rect x="458.83" y="359.71" width="4.30" height="4.30" fill="#b30f2c"/>
<circle cx="473.50" cy="361.86" r="2.1" fill="#1a3f72"/>
<rect x="471.35" y="340.81" width="4.30" height="4.30" fill="#b30f2c"/>
<circle cx="486.02" cy="361.86" r="2.1" fill="#1a3f72"/>
<rect x="483.87" y="350.26" width="4.30" height="4.30" fill="#b30f2c"/>
<circle cx="498.54" cy="368.95" r="2.1" fill="#1a3f72"/>
<rect x="496.39" y="348.61" width="4.30" height="4.30" fill="#b30f2c"/>
<circle cx="511.06" cy="368.95" r="2.1" fill="#1a3f72"/>
<rect x="508.91" y="359.00" width="4.30" height="4.30" fill="#b30f2c"/>
<rect x="483.87" y="305.38" width="4.30" height="4.30" fill="#b0102e"/>
<rect x="483.87" y="305.38" width="4.30" height="2.15" fill="#2f9a3a"/>
<rect x="496.39" y="305.38" width="4.30" height="4.30" fill="#b0102e"/>
<rect x="496.39" y="305.38" width="4.30" height="2.15" fill="#2f9a3a"/>
<rect x="508.91" y="310.10" width="4.30" height="4.30" fill="#b0102e"/>
<rect x="508.91" y="310.10" width="4.30" height="2.15" fill="#2f9a3a"/>
<line x1="340.30" y1="300.30" x2="340.30" y2="397.90" stroke="#222" stroke-width="1.3"/>
<line x1="339.60" y1="397.30" x2="517.00" y2="397.30" stroke="#222" stroke-width="1.3"/>
<line x1="337.10" y1="397.30" x2="340.30" y2="397.30" stroke="#222" stroke-width="1.0"/>
<text x="333.90" y="400.00" font-size="7.6" text-anchor="end" fill="#333" color="#333">40</text>
<line x1="337.10" y1="373.68" x2="340.30" y2="373.68" stroke="#222" stroke-width="1.0"/>
<text x="333.90" y="376.38" font-size="7.6" text-anchor="end" fill="#333" color="#333">50</text>
<line x1="337.10" y1="350.05" x2="340.30" y2="350.05" stroke="#222" stroke-width="1.0"/>
<text x="333.90" y="352.75" font-size="7.6" text-anchor="end" fill="#333" color="#333">60</text>
<line x1="337.10" y1="326.43" x2="340.30" y2="326.43" stroke="#222" stroke-width="1.0"/>
<text x="333.90" y="329.12" font-size="7.6" text-anchor="end" fill="#333" color="#333">70</text>
<line x1="337.10" y1="302.80" x2="340.30" y2="302.80" stroke="#222" stroke-width="1.0"/>
<text x="333.90" y="305.50" font-size="7.6" text-anchor="end" fill="#333" color="#333">80</text>
<line x1="348.30" y1="397.30" x2="348.30" y2="400.00" stroke="#222" stroke-width="1.0"/>
<text transform="translate(350.30,406.00) rotate(-45)" x="0" y="0" font-size="6.5" text-anchor="end" fill="#222" color="#222">WT</text>
<line x1="360.82" y1="397.30" x2="360.82" y2="400.00" stroke="#222" stroke-width="1.0"/>
<text transform="translate(362.82,406.00) rotate(-45)" x="0" y="0" font-size="6.5" text-anchor="end" fill="#5a60b0" color="#5a60b0">R382W</text>
<line x1="373.34" y1="397.30" x2="373.34" y2="400.00" stroke="#222" stroke-width="1.0"/>
<text transform="translate(375.34,406.00) rotate(-45)" x="0" y="0" font-size="6.5" text-anchor="end" fill="#c06a9c" color="#c06a9c">R423Q</text>
<line x1="385.86" y1="397.30" x2="385.86" y2="400.00" stroke="#222" stroke-width="1.0"/>
<text transform="translate(384.66,406.00) rotate(-45)" x="0" y="0" font-size="6.5" text-anchor="end" fill="#4a3030" color="#4a3030">V463del</text>
<line x1="398.38" y1="397.30" x2="398.38" y2="400.00" stroke="#222" stroke-width="1.0"/>
<text transform="translate(400.38,406.00) rotate(-45)" x="0" y="0" font-size="6.5" text-anchor="end" fill="#c2c46e" color="#c2c46e">Q344H</text>
<line x1="410.90" y1="397.30" x2="410.90" y2="400.00" stroke="#222" stroke-width="1.0"/>
<text transform="translate(412.90,406.00) rotate(-45)" x="0" y="0" font-size="6.5" text-anchor="end" fill="#5158a8" color="#5158a8">S636Y</text>
<line x1="423.42" y1="397.30" x2="423.42" y2="400.00" stroke="#222" stroke-width="1.0"/>
<text transform="translate(425.42,406.00) rotate(-45)" x="0" y="0" font-size="6.5" text-anchor="end" fill="#5158a8" color="#5158a8">S668Y</text>
<line x1="435.94" y1="397.30" x2="435.94" y2="400.00" stroke="#222" stroke-width="1.0"/>
<text transform="translate(437.94,406.00) rotate(-45)" x="0" y="0" font-size="6.5" text-anchor="end" fill="#743232" color="#743232">T622I</text>
<line x1="448.46" y1="397.30" x2="448.46" y2="400.00" stroke="#222" stroke-width="1.0"/>
<text transform="translate(450.46,406.00) rotate(-45)" x="0" y="0" font-size="6.5" text-anchor="end" fill="#6a2e40" color="#6a2e40">Y657S</text>
<line x1="460.98" y1="397.30" x2="460.98" y2="400.00" stroke="#222" stroke-width="1.0"/>
<text transform="translate(462.98,406.00) rotate(-45)" x="0" y="0" font-size="6.5" text-anchor="end" fill="#b45cae" color="#b45cae">V637M</text>
<line x1="473.50" y1="397.30" x2="473.50" y2="400.00" stroke="#222" stroke-width="1.0"/>
<text transform="translate(475.50,406.00) rotate(-45)" x="0" y="0" font-size="6.5" text-anchor="end" fill="#b04aa0" color="#b04aa0">N647D</text>
<line x1="486.02" y1="397.30" x2="486.02" y2="400.00" stroke="#222" stroke-width="1.0"/>
<text transform="translate(488.02,406.00) rotate(-45)" x="0" y="0" font-size="6.5" text-anchor="end" fill="#b2c468" color="#b2c468">Y640F</text>
<line x1="498.54" y1="397.30" x2="498.54" y2="400.00" stroke="#222" stroke-width="1.0"/>
<text transform="translate(500.54,406.00) rotate(-45)" x="0" y="0" font-size="6.5" text-anchor="end" fill="#bcbc8a" color="#bcbc8a">K658Y</text>
<line x1="511.06" y1="397.30" x2="511.06" y2="400.00" stroke="#222" stroke-width="1.0"/>
<text transform="translate(513.06,406.00) rotate(-45)" x="0" y="0" font-size="6.5" text-anchor="end" fill="#c4c490" color="#c4c490">D661Y</text>
<text transform="translate(316.4,348.4) rotate(-90)" font-size="7.0" text-anchor="middle" fill="#333" color="#333" textLength="20.4" lengthAdjust="spacingAndGlyphs">T<tspan font-size="4.8" dy="1.8">m</tspan><tspan dy="-1.8"> (&#176;C)</tspan></text>
<rect x="351.10" y="428.60" width="4.50" height="4.30" fill="#1b4a86"/>
<text x="359.2" y="433.2" font-size="6.6" fill="#333" color="#333" textLength="42.9" lengthAdjust="spacingAndGlyphs">T<tspan font-size="4.6" dy="1.6">m</tspan><tspan dy="-1.6">1 Monomer</tspan></text>
<rect x="415.30" y="428.60" width="4.60" height="4.30" fill="#c0102e"/>
<text x="424.4" y="433.2" font-size="6.6" fill="#333" color="#333" textLength="31.1" lengthAdjust="spacingAndGlyphs">T<tspan font-size="4.6" dy="1.6">m</tspan><tspan dy="-1.6">1 Dimer</tspan></text>
<rect x="469.20" y="428.60" width="5.20" height="4.30" fill="#b0102e"/>
<rect x="469.20" y="428.60" width="5.20" height="2.10" fill="#2f9a3a"/>
<text x="478" y="433.2" font-size="6.6" fill="#333" color="#333" textLength="31.4" lengthAdjust="spacingAndGlyphs">T<tspan font-size="4.6" dy="1.6">m</tspan><tspan dy="-1.6">2 Dimer</tspan></text>
<rect x="69.32" y="526.60" width="6.90" height="1.19" fill="#1b4a86"/>
<rect x="89.66" y="526.60" width="6.90" height="7.95" fill="#1b4a86"/>
<rect x="99.83" y="522.62" width="6.90" height="3.98" fill="#1b4a86"/>
<rect x="110.00" y="526.60" width="6.90" height="11.92" fill="#1b4a86"/>
<rect x="120.17" y="526.60" width="6.90" height="23.85" fill="#1b4a86"/>
<rect x="130.34" y="526.60" width="6.90" height="19.88" fill="#1b4a86"/>
<rect x="140.51" y="526.60" width="6.90" height="31.80" fill="#1b4a86"/>
<rect x="150.68" y="526.60" width="6.90" height="7.95" fill="#1b4a86"/>
<rect x="181.19" y="526.60" width="6.90" height="11.92" fill="#1b4a86"/>
<rect x="191.36" y="526.60" width="6.90" height="11.92" fill="#1b4a86"/>
<rect x="239.42" y="526.60" width="6.90" height="7.95" fill="#cc0f2d"/>
<rect x="259.76" y="526.60" width="6.90" height="31.80" fill="#cc0f2d"/>
<rect x="269.93" y="526.60" width="6.90" height="43.73" fill="#cc0f2d"/>
<rect x="280.10" y="526.60" width="6.90" height="39.75" fill="#cc0f2d"/>
<rect x="290.27" y="526.60" width="6.90" height="59.62" fill="#cc0f2d"/>
<rect x="300.44" y="526.60" width="6.90" height="43.73" fill="#cc0f2d"/>
<rect x="310.61" y="526.60" width="6.90" height="11.92" fill="#cc0f2d"/>
<rect x="320.78" y="526.60" width="6.90" height="27.83" fill="#cc0f2d"/>
<rect x="330.95" y="526.60" width="6.90" height="25.04" fill="#cc0f2d"/>
<rect x="341.12" y="526.60" width="6.90" height="42.53" fill="#cc0f2d"/>
<rect x="470.94" y="478.90" width="6.90" height="47.70" fill="#3aa83a"/>
<rect x="481.11" y="478.90" width="6.90" height="47.70" fill="#3aa83a"/>
<rect x="491.28" y="486.85" width="6.90" height="39.75" fill="#3aa83a"/>
<line x1="72.77" y1="530.18" x2="72.77" y2="525.41" stroke="#1b4a86" stroke-width="0.8"/>
<line x1="70.97" y1="530.18" x2="74.57" y2="530.18" stroke="#1b4a86" stroke-width="0.8"/>
<line x1="70.97" y1="525.41" x2="74.57" y2="525.41" stroke="#1b4a86" stroke-width="0.8"/>
<line x1="70.27" y1="527.79" x2="75.27" y2="527.79" stroke="#1b4a86" stroke-width="1.2"/>
<line x1="334.40" y1="554.03" x2="334.40" y2="549.26" stroke="#c8102e" stroke-width="0.8"/>
<line x1="332.60" y1="554.03" x2="336.20" y2="554.03" stroke="#c8102e" stroke-width="0.8"/>
<line x1="332.60" y1="549.26" x2="336.20" y2="549.26" stroke="#c8102e" stroke-width="0.8"/>
<line x1="344.57" y1="571.52" x2="344.57" y2="566.75" stroke="#c8102e" stroke-width="0.8"/>
<line x1="342.77" y1="571.52" x2="346.37" y2="571.52" stroke="#c8102e" stroke-width="0.8"/>
<line x1="342.77" y1="566.75" x2="346.37" y2="566.75" stroke="#c8102e" stroke-width="0.8"/>
<rect x="55.5" y="463.0" width="446.0" height="126.60000000000002" fill="none" stroke="#222" stroke-width="1.1"/>
<line x1="55.50" y1="526.60" x2="501.50" y2="526.60" stroke="#222" stroke-width="1.1"/>
<path d="M54.20,463.00 H55.5 M54.20,464.99 H55.5 M54.20,466.98 H55.5 M54.20,468.96 H55.5 M54.20,470.95 H55.5 M54.20,472.94 H55.5 M54.20,474.93 H55.5 M54.20,476.91 H55.5 M54.20,478.90 H55.5 M54.20,480.89 H55.5 M54.20,482.88 H55.5 M54.20,484.86 H55.5 M54.20,486.85 H55.5 M54.20,488.84 H55.5 M54.20,490.83 H55.5 M54.20,492.81 H55.5 M54.20,494.80 H55.5 M54.20,496.79 H55.5 M54.20,498.78 H55.5 M54.20,500.76 H55.5 M54.20,502.75 H55.5 M54.20,504.74 H55.5 M54.20,506.73 H55.5 M54.20,508.71 H55.5 M54.20,510.70 H55.5 M54.20,512.69 H55.5 M54.20,514.68 H55.5 M54.20,516.66 H55.5 M54.20,518.65 H55.5 M54.20,520.64 H55.5 M54.20,522.62 H55.5 M54.20,524.61 H55.5 M54.20,526.60 H55.5 M54.20,528.59 H55.5 M54.20,530.58 H55.5 M54.20,532.56 H55.5 M54.20,534.55 H55.5 M54.20,536.54 H55.5 M54.20,538.52 H55.5 M54.20,540.51 H55.5 M54.20,542.50 H55.5 M54.20,544.49 H55.5 M54.20,546.48 H55.5 M54.20,548.46 H55.5 M54.20,550.45 H55.5 M54.20,552.44 H55.5 M54.20,554.43 H55.5 M54.20,556.41 H55.5 M54.20,558.40 H55.5 M54.20,560.39 H55.5 M54.20,562.38 H55.5 M54.20,564.36 H55.5 M54.20,566.35 H55.5 M54.20,568.34 H55.5 M54.20,570.33 H55.5 M54.20,572.31 H55.5 M54.20,574.30 H55.5 M54.20,576.29 H55.5 M54.20,578.27 H55.5 M54.20,580.26 H55.5 M54.20,582.25 H55.5 M54.20,584.24 H55.5 M54.20,586.23 H55.5 M54.20,588.21 H55.5 M54.20,590.20 H55.5" stroke="#222" stroke-width="0.8"/>
<line x1="52.50" y1="566.35" x2="55.50" y2="566.35" stroke="#222" stroke-width="1.0"/>
<text x="49.80" y="568.95" font-size="7.4" text-anchor="end" fill="#333" color="#333">-10</text>
<line x1="52.50" y1="526.60" x2="55.50" y2="526.60" stroke="#222" stroke-width="1.0"/>
<text x="49.80" y="529.20" font-size="7.4" text-anchor="end" fill="#333" color="#333">0</text>
<line x1="52.50" y1="486.85" x2="55.50" y2="486.85" stroke="#222" stroke-width="1.0"/>
<text x="49.80" y="489.45" font-size="7.4" text-anchor="end" fill="#333" color="#333">10</text>
<line x1="62.60" y1="589.60" x2="62.60" y2="592.20" stroke="#222" stroke-width="1.0"/>
<text transform="translate(65.30,597.00) rotate(-90)" x="0" y="0" font-size="7.9" text-anchor="end" fill="#222" color="#222">WT</text>
<line x1="72.77" y1="589.60" x2="72.77" y2="592.20" stroke="#222" stroke-width="1.0"/>
<text transform="translate(75.47,597.00) rotate(-90)" x="0" y="0" font-size="7.9" text-anchor="end" fill="#5a60b0" color="#5a60b0">R382W</text>
<line x1="82.94" y1="589.60" x2="82.94" y2="592.20" stroke="#222" stroke-width="1.0"/>
<text transform="translate(85.64,597.00) rotate(-90)" x="0" y="0" font-size="7.9" text-anchor="end" fill="#c06a9c" color="#c06a9c">R423Q</text>
<line x1="93.11" y1="589.60" x2="93.11" y2="592.20" stroke="#222" stroke-width="1.0"/>
<text transform="translate(95.81,597.00) rotate(-90)" x="0" y="0" font-size="7.9" text-anchor="end" fill="#4a3030" color="#4a3030">V463del</text>
<line x1="103.28" y1="589.60" x2="103.28" y2="592.20" stroke="#222" stroke-width="1.0"/>
<text transform="translate(105.98,597.00) rotate(-90)" x="0" y="0" font-size="7.9" text-anchor="end" fill="#c2c46e" color="#c2c46e">Q344H</text>
<line x1="113.45" y1="589.60" x2="113.45" y2="592.20" stroke="#222" stroke-width="1.0"/>
<text transform="translate(116.15,597.00) rotate(-90)" x="0" y="0" font-size="7.9" text-anchor="end" fill="#5158a8" color="#5158a8">S636Y</text>
<line x1="123.62" y1="589.60" x2="123.62" y2="592.20" stroke="#222" stroke-width="1.0"/>
<text transform="translate(126.32,597.00) rotate(-90)" x="0" y="0" font-size="7.9" text-anchor="end" fill="#5158a8" color="#5158a8">S668Y</text>
<line x1="133.79" y1="589.60" x2="133.79" y2="592.20" stroke="#222" stroke-width="1.0"/>
<text transform="translate(136.49,597.00) rotate(-90)" x="0" y="0" font-size="7.9" text-anchor="end" fill="#743232" color="#743232">T622I</text>
<line x1="143.96" y1="589.60" x2="143.96" y2="592.20" stroke="#222" stroke-width="1.0"/>
<text transform="translate(146.66,597.00) rotate(-90)" x="0" y="0" font-size="7.9" text-anchor="end" fill="#6a2e40" color="#6a2e40">Y657S</text>
<line x1="154.13" y1="589.60" x2="154.13" y2="592.20" stroke="#222" stroke-width="1.0"/>
<text transform="translate(156.83,597.00) rotate(-90)" x="0" y="0" font-size="7.9" text-anchor="end" fill="#b45cae" color="#b45cae">V637M</text>
<line x1="164.30" y1="589.60" x2="164.30" y2="592.20" stroke="#222" stroke-width="1.0"/>
<text transform="translate(167.00,597.00) rotate(-90)" x="0" y="0" font-size="7.9" text-anchor="end" fill="#b04aa0" color="#b04aa0">N647D</text>
<line x1="174.47" y1="589.60" x2="174.47" y2="592.20" stroke="#222" stroke-width="1.0"/>
<text transform="translate(177.17,597.00) rotate(-90)" x="0" y="0" font-size="7.9" text-anchor="end" fill="#b2c468" color="#b2c468">Y640F</text>
<line x1="184.64" y1="589.60" x2="184.64" y2="592.20" stroke="#222" stroke-width="1.0"/>
<text transform="translate(187.34,597.00) rotate(-90)" x="0" y="0" font-size="7.9" text-anchor="end" fill="#bcbc8a" color="#bcbc8a">K658Y</text>
<line x1="194.81" y1="589.60" x2="194.81" y2="592.20" stroke="#222" stroke-width="1.0"/>
<text transform="translate(197.51,597.00) rotate(-90)" x="0" y="0" font-size="7.9" text-anchor="end" fill="#c4c490" color="#c4c490">D661Y</text>
<line x1="212.36" y1="589.60" x2="212.36" y2="592.20" stroke="#222" stroke-width="1.0"/>
<text transform="translate(215.06,597.00) rotate(-90)" x="0" y="0" font-size="7.9" text-anchor="end" fill="#222" color="#222">WT</text>
<line x1="222.53" y1="589.60" x2="222.53" y2="592.20" stroke="#222" stroke-width="1.0"/>
<text transform="translate(225.23,597.00) rotate(-90)" x="0" y="0" font-size="7.9" text-anchor="end" fill="#5a60b0" color="#5a60b0">R382W</text>
<line x1="232.70" y1="589.60" x2="232.70" y2="592.20" stroke="#222" stroke-width="1.0"/>
<text transform="translate(235.40,597.00) rotate(-90)" x="0" y="0" font-size="7.9" text-anchor="end" fill="#c06a9c" color="#c06a9c">R423Q</text>
<line x1="242.87" y1="589.60" x2="242.87" y2="592.20" stroke="#222" stroke-width="1.0"/>
<text transform="translate(245.57,597.00) rotate(-90)" x="0" y="0" font-size="7.9" text-anchor="end" fill="#4a3030" color="#4a3030">V463del</text>
<line x1="253.04" y1="589.60" x2="253.04" y2="592.20" stroke="#222" stroke-width="1.0"/>
<text transform="translate(255.74,597.00) rotate(-90)" x="0" y="0" font-size="7.9" text-anchor="end" fill="#c2c46e" color="#c2c46e">Q344H</text>
<line x1="263.21" y1="589.60" x2="263.21" y2="592.20" stroke="#222" stroke-width="1.0"/>
<text transform="translate(265.91,597.00) rotate(-90)" x="0" y="0" font-size="7.9" text-anchor="end" fill="#5158a8" color="#5158a8">S636Y</text>
<line x1="273.38" y1="589.60" x2="273.38" y2="592.20" stroke="#222" stroke-width="1.0"/>
<text transform="translate(276.08,597.00) rotate(-90)" x="0" y="0" font-size="7.9" text-anchor="end" fill="#5158a8" color="#5158a8">S668Y</text>
<line x1="283.55" y1="589.60" x2="283.55" y2="592.20" stroke="#222" stroke-width="1.0"/>
<text transform="translate(286.25,597.00) rotate(-90)" x="0" y="0" font-size="7.9" text-anchor="end" fill="#743232" color="#743232">T622I</text>
<line x1="293.72" y1="589.60" x2="293.72" y2="592.20" stroke="#222" stroke-width="1.0"/>
<text transform="translate(296.42,597.00) rotate(-90)" x="0" y="0" font-size="7.9" text-anchor="end" fill="#6a2e40" color="#6a2e40">Y657S</text>
<line x1="303.89" y1="589.60" x2="303.89" y2="592.20" stroke="#222" stroke-width="1.0"/>
<text transform="translate(306.59,597.00) rotate(-90)" x="0" y="0" font-size="7.9" text-anchor="end" fill="#b45cae" color="#b45cae">V637M</text>
<line x1="314.06" y1="589.60" x2="314.06" y2="592.20" stroke="#222" stroke-width="1.0"/>
<text transform="translate(316.76,597.00) rotate(-90)" x="0" y="0" font-size="7.9" text-anchor="end" fill="#b04aa0" color="#b04aa0">N647D</text>
<line x1="324.23" y1="589.60" x2="324.23" y2="592.20" stroke="#222" stroke-width="1.0"/>
<text transform="translate(326.93,597.00) rotate(-90)" x="0" y="0" font-size="7.9" text-anchor="end" fill="#b2c468" color="#b2c468">Y640F</text>
<line x1="334.40" y1="589.60" x2="334.40" y2="592.20" stroke="#222" stroke-width="1.0"/>
<text transform="translate(337.10,597.00) rotate(-90)" x="0" y="0" font-size="7.9" text-anchor="end" fill="#bcbc8a" color="#bcbc8a">K658Y</text>
<line x1="344.57" y1="589.60" x2="344.57" y2="592.20" stroke="#222" stroke-width="1.0"/>
<text transform="translate(347.27,597.00) rotate(-90)" x="0" y="0" font-size="7.9" text-anchor="end" fill="#c4c490" color="#c4c490">D661Y</text>
<line x1="362.52" y1="589.60" x2="362.52" y2="592.20" stroke="#222" stroke-width="1.0"/>
<text transform="translate(365.22,597.00) rotate(-90)" x="0" y="0" font-size="7.9" text-anchor="end" fill="#222" color="#222">WT</text>
<line x1="372.69" y1="589.60" x2="372.69" y2="592.20" stroke="#222" stroke-width="1.0"/>
<text transform="translate(375.39,597.00) rotate(-90)" x="0" y="0" font-size="7.9" text-anchor="end" fill="#5a60b0" color="#5a60b0">R382W</text>
<line x1="382.86" y1="589.60" x2="382.86" y2="592.20" stroke="#222" stroke-width="1.0"/>
<text transform="translate(385.56,597.00) rotate(-90)" x="0" y="0" font-size="7.9" text-anchor="end" fill="#c06a9c" color="#c06a9c">R423Q</text>
<line x1="393.03" y1="589.60" x2="393.03" y2="592.20" stroke="#222" stroke-width="1.0"/>
<text transform="translate(395.73,597.00) rotate(-90)" x="0" y="0" font-size="7.9" text-anchor="end" fill="#4a3030" color="#4a3030">V463del</text>
<line x1="403.20" y1="589.60" x2="403.20" y2="592.20" stroke="#222" stroke-width="1.0"/>
<text transform="translate(405.90,597.00) rotate(-90)" x="0" y="0" font-size="7.9" text-anchor="end" fill="#c2c46e" color="#c2c46e">Q344H</text>
<line x1="413.37" y1="589.60" x2="413.37" y2="592.20" stroke="#222" stroke-width="1.0"/>
<text transform="translate(416.07,597.00) rotate(-90)" x="0" y="0" font-size="7.9" text-anchor="end" fill="#5158a8" color="#5158a8">S636Y</text>
<line x1="423.54" y1="589.60" x2="423.54" y2="592.20" stroke="#222" stroke-width="1.0"/>
<text transform="translate(426.24,597.00) rotate(-90)" x="0" y="0" font-size="7.9" text-anchor="end" fill="#5158a8" color="#5158a8">S668Y</text>
<line x1="433.71" y1="589.60" x2="433.71" y2="592.20" stroke="#222" stroke-width="1.0"/>
<text transform="translate(436.41,597.00) rotate(-90)" x="0" y="0" font-size="7.9" text-anchor="end" fill="#743232" color="#743232">T622I</text>
<line x1="443.88" y1="589.60" x2="443.88" y2="592.20" stroke="#222" stroke-width="1.0"/>
<text transform="translate(446.58,597.00) rotate(-90)" x="0" y="0" font-size="7.9" text-anchor="end" fill="#6a2e40" color="#6a2e40">Y657S</text>
<line x1="454.05" y1="589.60" x2="454.05" y2="592.20" stroke="#222" stroke-width="1.0"/>
<text transform="translate(456.75,597.00) rotate(-90)" x="0" y="0" font-size="7.9" text-anchor="end" fill="#b45cae" color="#b45cae">V637M</text>
<line x1="464.22" y1="589.60" x2="464.22" y2="592.20" stroke="#222" stroke-width="1.0"/>
<text transform="translate(466.92,597.00) rotate(-90)" x="0" y="0" font-size="7.9" text-anchor="end" fill="#b04aa0" color="#b04aa0">N647D</text>
<line x1="474.39" y1="589.60" x2="474.39" y2="592.20" stroke="#222" stroke-width="1.0"/>
<text transform="translate(477.09,597.00) rotate(-90)" x="0" y="0" font-size="7.9" text-anchor="end" fill="#b2c468" color="#b2c468">Y640F</text>
<line x1="484.56" y1="589.60" x2="484.56" y2="592.20" stroke="#222" stroke-width="1.0"/>
<text transform="translate(487.26,597.00) rotate(-90)" x="0" y="0" font-size="7.9" text-anchor="end" fill="#bcbc8a" color="#bcbc8a">K658Y</text>
<line x1="494.73" y1="589.60" x2="494.73" y2="592.20" stroke="#222" stroke-width="1.0"/>
<text transform="translate(497.43,597.00) rotate(-90)" x="0" y="0" font-size="7.9" text-anchor="end" fill="#c4c490" color="#c4c490">D661Y</text>
<text transform="translate(28.0,526.5) rotate(-90)" font-size="6.5" text-anchor="middle" fill="#333" color="#333">&#916;T<tspan font-size="4.8" dy="1.5">m</tspan><tspan dy="-1.5"> (&#176;C)</tspan></text>
<text x="134.50" y="486.80" font-size="8.0" text-anchor="middle" fill="#333" color="#333" textLength="34.6" lengthAdjust="spacingAndGlyphs">monomer</text>
<text x="134.80" y="496.20" font-size="8.0" text-anchor="middle" fill="#333" color="#333" textLength="31.4" lengthAdjust="spacingAndGlyphs">Mu - WT</text>
<text x="280.50" y="486.80" font-size="8.0" text-anchor="middle" fill="#333" color="#333" textLength="22.0" lengthAdjust="spacingAndGlyphs">Dimer</text>
<text x="280.50" y="496.40" font-size="8.0" text-anchor="middle" fill="#333" color="#333" textLength="29.2" lengthAdjust="spacingAndGlyphs">Mu -WT</text>
<text x="413.00" y="486.80" font-size="8.0" text-anchor="middle" fill="#333" color="#333" textLength="21.8" lengthAdjust="spacingAndGlyphs">Dimer</text>
<text x="413.20" y="496.40" font-size="8.0" text-anchor="middle" fill="#333" color="#333" textLength="29.0" lengthAdjust="spacingAndGlyphs">Mu -WT</text>
<rect x="144.20" y="634.60" width="8.90" height="8.70" fill="#1b4a86"/>
<text x="158.3" y="642.3" font-size="7.5" fill="#333" color="#333" textLength="69.8" lengthAdjust="spacingAndGlyphs">&#916;T<tspan font-size="5.2" dy="1.8">m</tspan><tspan dy="-1.8"> (&#176;C) Monomer</tspan></text>
<rect x="243.80" y="634.60" width="8.70" height="8.70" fill="#c8102e"/>
<text x="257.3" y="642.3" font-size="7.5" fill="#333" color="#333" textLength="61.2" lengthAdjust="spacingAndGlyphs">&#916;T<tspan font-size="5.2" dy="1.8">m</tspan><tspan dy="-1.8">1 (&#176;C) Dimer</tspan></text>
<rect x="333.50" y="634.60" width="8.40" height="8.20" fill="#3aa537"/>
<text x="346.9" y="642.3" font-size="7.5" fill="#333" color="#333" textLength="61.0" lengthAdjust="spacingAndGlyphs">&#916;T<tspan font-size="5.2" dy="1.8">m</tspan><tspan dy="-1.8">2 (&#176;C) Dimer</tspan></text>
</svg></body></html>
